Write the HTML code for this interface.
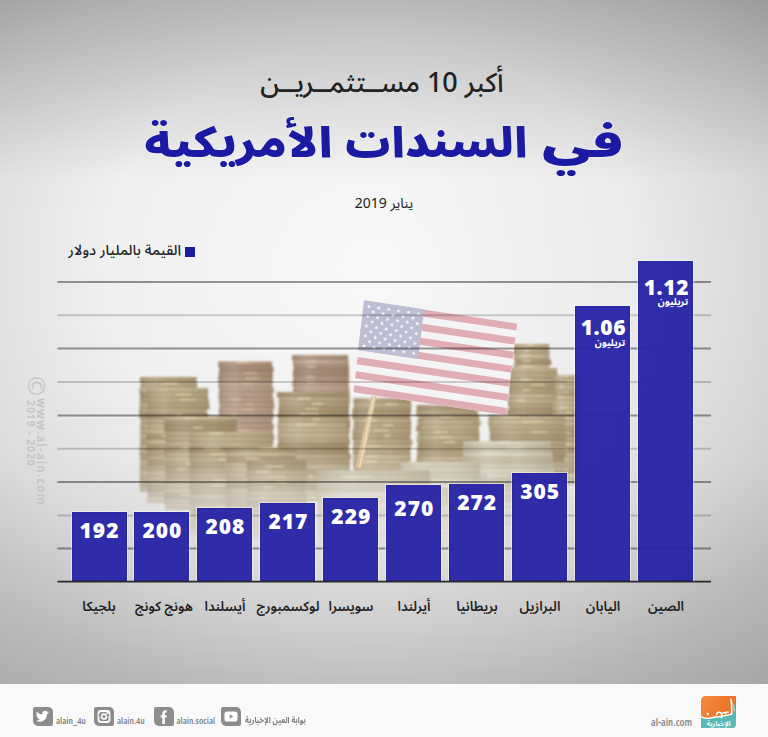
<!DOCTYPE html>
<html lang="ar">
<head>
<meta charset="utf-8">
<title>أكبر 10 مستثمرين في السندات الأمريكية</title>
<style>
*{margin:0;padding:0;box-sizing:border-box}
html,body{width:768px;height:737px;overflow:hidden}
body{position:relative;font-family:"Noto Sans Arabic","Open Sans","Liberation Sans","DejaVu Sans",sans-serif;color:#222;background:#f9f9f9}
.abs{position:absolute}
#wm{left:0;top:0;width:0;height:0;color:#c6c6c6;font-family:"Open Sans","Liberation Sans",sans-serif;font-weight:700}
#wm span{position:absolute;white-space:nowrap;transform-origin:0 0;transform:rotate(90deg)}
#wm-c{left:47px;top:376px;font-size:24px;line-height:20px;font-weight:400}
#wm-1{left:46.5px;top:398px;font-size:11.5px;line-height:12px;letter-spacing:1.1px}
#wm-2{left:36px;top:400px;font-size:10.5px;line-height:11px;letter-spacing:.9px}

#bg{left:0;top:0;width:768px;height:684px;
background:linear-gradient(to bottom,rgba(0,0,0,.214) 0,rgba(0,0,0,0) 180px),linear-gradient(to top,rgba(0,0,0,.087) 0,rgba(0,0,0,0) 223px),linear-gradient(to right,rgba(0,0,0,0) 50%,rgba(0,0,0,.034) 100%),
radial-gradient(ellipse 689px 593px at 373px 267px,#f8f8f8 0%,#f0f0f0 38.5%,#dcdcdc 61.5%,#c8c8c8 76.9%,#b4b4b4 100%);}
#sub{left:-2px;width:768px;top:63.5px;text-align:center;font-size:27px;font-weight:500;line-height:40px;direction:rtl;color:#222}
#title{left:0;top:0;width:768px;height:200px}
.tw{position:absolute;top:107px;font-size:47.6px;font-weight:900;line-height:70px;color:#1b1aa2;text-shadow:0 0 2px rgba(255,255,255,.9);transform-origin:0 48px;white-space:nowrap}
#date{left:0;width:768px;top:192px;text-align:center;font-size:14px;line-height:24px;direction:rtl;color:#222}
#legend{left:40px;top:239.5px;width:141px;text-align:right;font-size:14.5px;font-weight:500;line-height:22px;direction:rtl;color:#222}
#legsq{left:185px;top:247px;width:9.6px;height:10px;background:#1c1c9e}
.bar{position:absolute;width:55px;background:#2a27a8;opacity:.97;box-shadow:0 0 0 1px rgba(255,255,245,.5),inset 0 0 0 1px #2421a0}
.num{position:absolute;width:55px;text-align:center;color:#fff;font-family:"Open Sans","Liberation Sans",sans-serif;font-weight:800;font-size:21px;line-height:24px;letter-spacing:1px;text-indent:1px}
.tn{position:absolute;width:51px;text-align:right;color:#fff;font-family:"Open Sans","Liberation Sans",sans-serif;font-weight:800;font-size:21px;line-height:28px;letter-spacing:.6px}
.tt{position:absolute;width:50px;text-align:right;direction:rtl;color:#fff;font-size:9.6px;font-weight:700;line-height:16px}
.lab{position:absolute;width:90px;text-align:center;direction:rtl;font-size:13.4px;font-weight:600;line-height:24px;top:595px;color:#222}
#footer{left:0;top:684px;width:768px;height:53px;background:#f9f9f9}
.ico{position:absolute;top:706.5px;width:20px;height:19px;background:#8c8c8c;border-radius:2px 5px 2px 5px}
.ico svg{display:block}
.ft{position:absolute;top:714px;font-family:"Open Sans","Liberation Sans",sans-serif;font-weight:600;font-size:9.4px;font-stretch:75%;line-height:13px;color:#7e7e7e;white-space:nowrap;transform-origin:0 0}
.ft.ar{font-family:"Noto Sans Arabic","DejaVu Sans",sans-serif;font-weight:700;font-size:8.5px;font-stretch:75%;top:714px}
.ft.ar{direction:rtl}
#logo{left:700.8px;top:695.5px}
</style>
</head>
<body>
<div id="bg" class="abs"></div>

<div id="sub" class="abs">أكبر 10 مســتثمــريــن</div>
<div id="title" class="abs"><span class="tw" style="left:541.8px;transform:scale(1.24,.87)">في</span><span class="tw" style="left:344.2px;transform:scale(.932,.87)">السندات</span><span class="tw" style="left:144px;transform:scale(.984,.87)">الأمريكية</span></div>
<div id="date" class="abs">يناير 2019</div>
<div id="legend" class="abs">القيمة بالمليار دولار</div>
<div id="legsq" class="abs"></div>

<svg id="photo" class="abs" style="left:0;top:0" width="768" height="600">
<defs>
<pattern id="pg" width="10" height="5.2" patternUnits="userSpaceOnUse"><rect width="10" height="5.2" fill="#bba377"/><rect width="10" height="1.3" fill="#d6c49a"/><rect y="3.6" width="10" height="1.4" fill="#9c835a"/></pattern>
<pattern id="pc" width="10" height="5.2" patternUnits="userSpaceOnUse"><rect width="10" height="5.2" fill="#b8957a"/><rect width="10" height="1.3" fill="#d0ae94"/><rect y="3.6" width="10" height="1.4" fill="#98735a"/></pattern>
<pattern id="ps" width="10" height="5.6" patternUnits="userSpaceOnUse"><rect width="10" height="5.6" fill="#d0c5a8"/><rect width="10" height="1.4" fill="#e4dcc6"/><rect y="3.8" width="10" height="1.5" fill="#b8a882"/></pattern>
<linearGradient id="shade" x1="0" x2="1" y1="0" y2="0"><stop offset="0" stop-color="#6a5430" stop-opacity=".22"/><stop offset=".3" stop-color="#fff" stop-opacity=".1"/><stop offset=".6" stop-color="#6a5430" stop-opacity="0"/><stop offset="1" stop-color="#6a5430" stop-opacity=".25"/></linearGradient>
<linearGradient id="fadeb" x1="0" x2="0" y1="0" y2="1"><stop offset="0" stop-color="#fff" stop-opacity="1"/><stop offset=".55" stop-color="#fff" stop-opacity="1"/><stop offset=".75" stop-color="#fff" stop-opacity=".55"/><stop offset="1" stop-color="#fff" stop-opacity="0"/></linearGradient>
<mask id="pm"><rect x="120" y="330" width="470" height="220" fill="url(#fadeb)"/></mask>
<filter id="soft" x="-5%" y="-5%" width="110%" height="110%"><feGaussianBlur stdDeviation=".8"/></filter>
</defs>
<g mask="url(#pm)" filter="url(#soft)" opacity=".9">
<rect x="513.6" y="344.0" width="35.3" height="5.4" fill="#b4a27c"/><rect x="513.6" y="347.8" width="35.3" height="1.3" fill="#7a684a" opacity=".55"/><rect x="526.7" y="344.5" width="6.2" height="1.4" fill="#e8d8a4" opacity=".85"/><rect x="512.9" y="349.2" width="36.0" height="5.4" fill="#b4a27c"/><rect x="512.9" y="353.0" width="36.0" height="1.3" fill="#7a684a" opacity=".55"/><rect x="524.4" y="349.7" width="5.3" height="1.4" fill="#e8d8a4" opacity=".85"/><rect x="514.1" y="354.4" width="35.1" height="5.4" fill="#c2b18c"/><rect x="514.1" y="358.2" width="35.1" height="1.3" fill="#7a684a" opacity=".55"/><rect x="522.7" y="354.9" width="8.1" height="1.4" fill="#e8d8a4" opacity=".85"/><rect x="515.1" y="359.6" width="36.2" height="5.4" fill="#a08c66"/><rect x="515.1" y="363.4" width="36.2" height="1.3" fill="#7a684a" opacity=".55"/><rect x="523.7" y="360.1" width="7.6" height="1.4" fill="#e8d8a4" opacity=".85"/><rect x="513.1" y="364.8" width="35.8" height="5.4" fill="#c2b18c"/><rect x="513.1" y="368.6" width="35.8" height="1.3" fill="#7a684a" opacity=".55"/><rect x="523.0" y="365.3" width="9.5" height="1.4" fill="#e8d8a4" opacity=".85"/><rect x="513.2" y="370.0" width="36.2" height="5.4" fill="#ab9872"/><rect x="513.2" y="373.8" width="36.2" height="1.3" fill="#7a684a" opacity=".55"/><rect x="526.5" y="370.5" width="4.1" height="1.4" fill="#e8d8a4" opacity=".85"/><rect x="512.9" y="375.2" width="35.4" height="5.4" fill="#c2b18c"/><rect x="512.9" y="379.0" width="35.4" height="1.3" fill="#7a684a" opacity=".55"/><rect x="522.9" y="375.7" width="7.8" height="1.4" fill="#e8d8a4" opacity=".85"/><rect x="513.9" y="380.4" width="35.6" height="5.4" fill="#ab9872"/><rect x="513.9" y="384.2" width="35.6" height="1.3" fill="#7a684a" opacity=".55"/><rect x="513.4" y="385.6" width="36.1" height="5.4" fill="#c2b18c"/><rect x="513.4" y="389.4" width="36.1" height="1.3" fill="#7a684a" opacity=".55"/><rect x="523.7" y="386.1" width="6.8" height="1.4" fill="#e8d8a4" opacity=".85"/><rect x="514.3" y="390.8" width="35.1" height="5.4" fill="#c2b18c"/><rect x="514.3" y="394.6" width="35.1" height="1.3" fill="#7a684a" opacity=".55"/><rect x="530.6" y="391.3" width="4.7" height="1.4" fill="#e8d8a4" opacity=".85"/><rect x="514.0" y="396.0" width="35.1" height="5.4" fill="#b4a27c"/><rect x="514.0" y="399.8" width="35.1" height="1.3" fill="#7a684a" opacity=".55"/><rect x="514.2" y="401.2" width="36.8" height="5.4" fill="#bcab86"/><rect x="514.2" y="405.0" width="36.8" height="1.3" fill="#7a684a" opacity=".55"/><rect x="524.6" y="401.7" width="7.2" height="1.4" fill="#e8d8a4" opacity=".85"/><rect x="514.7" y="406.4" width="35.1" height="5.4" fill="#b4a27c"/><rect x="514.7" y="410.2" width="35.1" height="1.3" fill="#7a684a" opacity=".55"/><rect x="513.9" y="411.6" width="36.3" height="5.4" fill="#b4a27c"/><rect x="513.9" y="415.4" width="36.3" height="1.3" fill="#7a684a" opacity=".55"/><rect x="513.5" y="416.8" width="36.2" height="5.4" fill="#a08c66"/><rect x="513.5" y="420.6" width="36.2" height="1.3" fill="#7a684a" opacity=".55"/><rect x="524.5" y="417.3" width="8.4" height="1.4" fill="#e8d8a4" opacity=".85"/><rect x="514" y="344" width="36" height="76" fill="url(#shade)"/>
<rect x="291.9" y="355.0" width="55.9" height="5.4" fill="#a88a74"/><rect x="291.9" y="358.8" width="55.9" height="1.3" fill="#7e6050" opacity=".55"/><rect x="293.0" y="360.2" width="55.4" height="5.4" fill="#b99c88"/><rect x="293.0" y="364.0" width="55.4" height="1.3" fill="#7e6050" opacity=".55"/><rect x="306.9" y="360.7" width="10.0" height="1.4" fill="#dcc0a0" opacity=".85"/><rect x="293.9" y="365.4" width="55.2" height="5.4" fill="#9c7e68"/><rect x="293.9" y="369.2" width="55.2" height="1.3" fill="#7e6050" opacity=".55"/><rect x="308.5" y="365.9" width="7.1" height="1.4" fill="#dcc0a0" opacity=".85"/><rect x="292.8" y="370.6" width="56.1" height="5.4" fill="#9c7e68"/><rect x="292.8" y="374.4" width="56.1" height="1.3" fill="#7e6050" opacity=".55"/><rect x="293.4" y="375.8" width="55.8" height="5.4" fill="#a88a74"/><rect x="293.4" y="379.6" width="55.8" height="1.3" fill="#7e6050" opacity=".55"/><rect x="305.8" y="376.3" width="8.2" height="1.4" fill="#dcc0a0" opacity=".85"/><rect x="292.4" y="381.0" width="56.0" height="5.4" fill="#b49682"/><rect x="292.4" y="384.8" width="56.0" height="1.3" fill="#7e6050" opacity=".55"/><rect x="307.1" y="381.5" width="7.2" height="1.4" fill="#dcc0a0" opacity=".85"/><rect x="293.1" y="386.2" width="56.2" height="5.4" fill="#b99c88"/><rect x="293.1" y="390.0" width="56.2" height="1.3" fill="#7e6050" opacity=".55"/><rect x="293.5" y="391.4" width="56.0" height="5.4" fill="#b49682"/><rect x="293.5" y="395.2" width="56.0" height="1.3" fill="#7e6050" opacity=".55"/><rect x="293.6" y="396.6" width="55.9" height="5.4" fill="#b49682"/><rect x="293.6" y="400.4" width="55.9" height="1.3" fill="#7e6050" opacity=".55"/><rect x="310.9" y="397.1" width="6.8" height="1.4" fill="#dcc0a0" opacity=".85"/><rect x="293.3" y="401.8" width="55.1" height="5.4" fill="#b09480"/><rect x="293.3" y="405.6" width="55.1" height="1.3" fill="#7e6050" opacity=".55"/><rect x="292.9" y="407.0" width="55.2" height="5.4" fill="#b49682"/><rect x="292.9" y="410.8" width="55.2" height="1.3" fill="#7e6050" opacity=".55"/><rect x="301.3" y="407.5" width="7.3" height="1.4" fill="#dcc0a0" opacity=".85"/><rect x="292.0" y="412.2" width="55.7" height="5.4" fill="#b09480"/><rect x="292.0" y="416.0" width="55.7" height="1.3" fill="#7e6050" opacity=".55"/><rect x="305.1" y="412.7" width="9.8" height="1.4" fill="#dcc0a0" opacity=".85"/><rect x="293.3" y="417.4" width="56.9" height="5.4" fill="#b49682"/><rect x="293.3" y="421.2" width="56.9" height="1.3" fill="#7e6050" opacity=".55"/><rect x="304.5" y="417.9" width="15.1" height="1.4" fill="#dcc0a0" opacity=".85"/><rect x="294.2" y="422.6" width="55.9" height="5.4" fill="#9c7e68"/><rect x="294.2" y="426.4" width="55.9" height="1.3" fill="#7e6050" opacity=".55"/><rect x="305.8" y="423.1" width="14.0" height="1.4" fill="#dcc0a0" opacity=".85"/><rect x="293.6" y="427.8" width="56.0" height="5.4" fill="#a88a74"/><rect x="293.6" y="431.6" width="56.0" height="1.3" fill="#7e6050" opacity=".55"/><rect x="306.6" y="428.3" width="16.3" height="1.4" fill="#dcc0a0" opacity=".85"/><rect x="292.7" y="433.0" width="56.4" height="5.4" fill="#b09480"/><rect x="292.7" y="436.8" width="56.4" height="1.3" fill="#7e6050" opacity=".55"/><rect x="292.5" y="438.2" width="56.3" height="5.4" fill="#b09480"/><rect x="292.5" y="442.0" width="56.3" height="1.3" fill="#7e6050" opacity=".55"/><rect x="292.4" y="443.4" width="55.7" height="5.4" fill="#a88a74"/><rect x="292.4" y="447.2" width="55.7" height="1.3" fill="#7e6050" opacity=".55"/><rect x="305.8" y="443.9" width="11.7" height="1.4" fill="#dcc0a0" opacity=".85"/><rect x="293.0" y="448.6" width="56.3" height="5.4" fill="#b49682"/><rect x="293.0" y="452.4" width="56.3" height="1.3" fill="#7e6050" opacity=".55"/><rect x="294.2" y="453.8" width="56.7" height="5.4" fill="#a88a74"/><rect x="294.2" y="457.6" width="56.7" height="1.3" fill="#7e6050" opacity=".55"/><rect x="293.6" y="459.0" width="55.5" height="5.4" fill="#b49682"/><rect x="293.6" y="462.8" width="55.5" height="1.3" fill="#7e6050" opacity=".55"/><rect x="318.4" y="459.5" width="16.7" height="1.4" fill="#dcc0a0" opacity=".85"/><rect x="293.7" y="464.2" width="55.9" height="5.4" fill="#a88a74"/><rect x="293.7" y="468.0" width="55.9" height="1.3" fill="#7e6050" opacity=".55"/><rect x="294.1" y="469.4" width="55.9" height="5.4" fill="#b99c88"/><rect x="294.1" y="473.2" width="55.9" height="1.3" fill="#7e6050" opacity=".55"/><rect x="292.7" y="474.6" width="55.4" height="5.4" fill="#a88a74"/><rect x="292.7" y="478.4" width="55.4" height="1.3" fill="#7e6050" opacity=".55"/><rect x="308.6" y="475.1" width="11.0" height="1.4" fill="#dcc0a0" opacity=".85"/><rect x="294.2" y="479.8" width="56.2" height="5.4" fill="#b09480"/><rect x="294.2" y="483.6" width="56.2" height="1.3" fill="#7e6050" opacity=".55"/><rect x="317.2" y="480.3" width="14.6" height="1.4" fill="#dcc0a0" opacity=".85"/><rect x="292.0" y="485.0" width="56.3" height="5.4" fill="#9c7e68"/><rect x="292.0" y="488.8" width="56.3" height="1.3" fill="#7e6050" opacity=".55"/><rect x="293.6" y="490.2" width="56.0" height="5.4" fill="#a88a74"/><rect x="293.6" y="494.0" width="56.0" height="1.3" fill="#7e6050" opacity=".55"/><rect x="316.2" y="490.7" width="6.6" height="1.4" fill="#dcc0a0" opacity=".85"/><rect x="294.1" y="495.4" width="56.4" height="5.4" fill="#9c7e68"/><rect x="294.1" y="499.2" width="56.4" height="1.3" fill="#7e6050" opacity=".55"/><rect x="323.7" y="495.9" width="13.7" height="1.4" fill="#dcc0a0" opacity=".85"/><rect x="293" y="355" width="56" height="145" fill="url(#shade)"/>
<rect x="218.2" y="361.5" width="53.3" height="5.4" fill="#a88a74"/><rect x="218.2" y="365.3" width="53.3" height="1.3" fill="#7e6050" opacity=".55"/><rect x="236.4" y="362.0" width="12.5" height="1.4" fill="#dcc0a0" opacity=".85"/><rect x="219.3" y="366.7" width="54.2" height="5.4" fill="#9c7e68"/><rect x="219.3" y="370.5" width="54.2" height="1.3" fill="#7e6050" opacity=".55"/><rect x="218.6" y="371.9" width="54.1" height="5.4" fill="#a88a74"/><rect x="218.6" y="375.7" width="54.1" height="1.3" fill="#7e6050" opacity=".55"/><rect x="244.0" y="372.4" width="13.2" height="1.4" fill="#dcc0a0" opacity=".85"/><rect x="218.0" y="377.1" width="54.5" height="5.4" fill="#a88a74"/><rect x="218.0" y="380.9" width="54.5" height="1.3" fill="#7e6050" opacity=".55"/><rect x="245.0" y="377.6" width="14.3" height="1.4" fill="#dcc0a0" opacity=".85"/><rect x="218.3" y="382.3" width="53.5" height="5.4" fill="#b99c88"/><rect x="218.3" y="386.1" width="53.5" height="1.3" fill="#7e6050" opacity=".55"/><rect x="242.9" y="382.8" width="8.9" height="1.4" fill="#dcc0a0" opacity=".85"/><rect x="219.1" y="387.5" width="54.7" height="5.4" fill="#b09480"/><rect x="219.1" y="391.3" width="54.7" height="1.3" fill="#7e6050" opacity=".55"/><rect x="218.6" y="392.7" width="53.9" height="5.4" fill="#b49682"/><rect x="218.6" y="396.5" width="53.9" height="1.3" fill="#7e6050" opacity=".55"/><rect x="219.0" y="397.9" width="54.7" height="5.4" fill="#b49682"/><rect x="219.0" y="401.7" width="54.7" height="1.3" fill="#7e6050" opacity=".55"/><rect x="230.4" y="398.4" width="10.9" height="1.4" fill="#dcc0a0" opacity=".85"/><rect x="219.9" y="403.1" width="54.6" height="5.4" fill="#b49682"/><rect x="219.9" y="406.9" width="54.6" height="1.3" fill="#7e6050" opacity=".55"/><rect x="245.3" y="403.6" width="7.3" height="1.4" fill="#dcc0a0" opacity=".85"/><rect x="218.9" y="408.3" width="54.5" height="5.4" fill="#b49682"/><rect x="218.9" y="412.1" width="54.5" height="1.3" fill="#7e6050" opacity=".55"/><rect x="241.8" y="408.8" width="11.1" height="1.4" fill="#dcc0a0" opacity=".85"/><rect x="219.0" y="413.5" width="54.6" height="5.4" fill="#b49682"/><rect x="219.0" y="417.3" width="54.6" height="1.3" fill="#7e6050" opacity=".55"/><rect x="231.2" y="414.0" width="5.9" height="1.4" fill="#dcc0a0" opacity=".85"/><rect x="218.0" y="418.7" width="53.9" height="5.4" fill="#b09480"/><rect x="218.0" y="422.5" width="53.9" height="1.3" fill="#7e6050" opacity=".55"/><rect x="220.0" y="423.9" width="53.9" height="5.4" fill="#b49682"/><rect x="220.0" y="427.7" width="53.9" height="1.3" fill="#7e6050" opacity=".55"/><rect x="219.3" y="429.1" width="53.4" height="5.4" fill="#b99c88"/><rect x="219.3" y="432.9" width="53.4" height="1.3" fill="#7e6050" opacity=".55"/><rect x="238.9" y="429.6" width="10.6" height="1.4" fill="#dcc0a0" opacity=".85"/><rect x="220.1" y="434.3" width="54.4" height="5.4" fill="#b99c88"/><rect x="220.1" y="438.1" width="54.4" height="1.3" fill="#7e6050" opacity=".55"/><rect x="219.9" y="439.5" width="53.4" height="5.4" fill="#9c7e68"/><rect x="219.9" y="443.3" width="53.4" height="1.3" fill="#7e6050" opacity=".55"/><rect x="230.7" y="440.0" width="10.2" height="1.4" fill="#dcc0a0" opacity=".85"/><rect x="218.0" y="444.7" width="53.5" height="5.4" fill="#b09480"/><rect x="218.0" y="448.5" width="53.5" height="1.3" fill="#7e6050" opacity=".55"/><rect x="232.6" y="445.2" width="6.7" height="1.4" fill="#dcc0a0" opacity=".85"/><rect x="219.7" y="449.9" width="54.9" height="5.4" fill="#b99c88"/><rect x="219.7" y="453.7" width="54.9" height="1.3" fill="#7e6050" opacity=".55"/><rect x="246.8" y="450.4" width="15.8" height="1.4" fill="#dcc0a0" opacity=".85"/><rect x="218.3" y="455.1" width="54.9" height="5.4" fill="#9c7e68"/><rect x="218.3" y="458.9" width="54.9" height="1.3" fill="#7e6050" opacity=".55"/><rect x="218.2" y="460.3" width="54.3" height="5.4" fill="#a88a74"/><rect x="218.2" y="464.1" width="54.3" height="1.3" fill="#7e6050" opacity=".55"/><rect x="235.6" y="460.8" width="11.0" height="1.4" fill="#dcc0a0" opacity=".85"/><rect x="218.6" y="465.5" width="53.4" height="5.4" fill="#b99c88"/><rect x="218.6" y="469.3" width="53.4" height="1.3" fill="#7e6050" opacity=".55"/><rect x="234.6" y="466.0" width="9.1" height="1.4" fill="#dcc0a0" opacity=".85"/><rect x="218.9" y="470.7" width="54.4" height="5.4" fill="#9c7e68"/><rect x="218.9" y="474.5" width="54.4" height="1.3" fill="#7e6050" opacity=".55"/><rect x="240.5" y="471.2" width="10.9" height="1.4" fill="#dcc0a0" opacity=".85"/><rect x="218.0" y="475.9" width="55.0" height="5.4" fill="#a88a74"/><rect x="218.0" y="479.7" width="55.0" height="1.3" fill="#7e6050" opacity=".55"/><rect x="218.1" y="481.1" width="53.5" height="5.4" fill="#b09480"/><rect x="218.1" y="484.9" width="53.5" height="1.3" fill="#7e6050" opacity=".55"/><rect x="218.2" y="486.3" width="54.5" height="5.4" fill="#9c7e68"/><rect x="218.2" y="490.1" width="54.5" height="1.3" fill="#7e6050" opacity=".55"/><rect x="219.4" y="491.5" width="54.9" height="5.4" fill="#9c7e68"/><rect x="219.4" y="495.3" width="54.9" height="1.3" fill="#7e6050" opacity=".55"/><rect x="247.4" y="492.0" width="11.6" height="1.4" fill="#dcc0a0" opacity=".85"/><rect x="219.5" y="496.7" width="53.2" height="5.4" fill="#b09480"/><rect x="219.5" y="500.5" width="53.2" height="1.3" fill="#7e6050" opacity=".55"/><rect x="219" y="361.5" width="54" height="138.5" fill="url(#shade)"/>
<rect x="507.2" y="368.0" width="49.8" height="5.4" fill="#bcab86"/><rect x="507.2" y="371.8" width="49.8" height="1.3" fill="#7a684a" opacity=".55"/><rect x="508.3" y="373.2" width="49.6" height="5.4" fill="#b4a27c"/><rect x="508.3" y="377.0" width="49.6" height="1.3" fill="#7a684a" opacity=".55"/><rect x="507.3" y="378.4" width="48.5" height="5.4" fill="#b4a27c"/><rect x="507.3" y="382.2" width="48.5" height="1.3" fill="#7a684a" opacity=".55"/><rect x="521.3" y="378.9" width="10.3" height="1.4" fill="#e8d8a4" opacity=".85"/><rect x="509.0" y="383.6" width="48.5" height="5.4" fill="#ab9872"/><rect x="509.0" y="387.4" width="48.5" height="1.3" fill="#7a684a" opacity=".55"/><rect x="530.3" y="384.1" width="14.1" height="1.4" fill="#e8d8a4" opacity=".85"/><rect x="509.1" y="388.8" width="48.5" height="5.4" fill="#ab9872"/><rect x="509.1" y="392.6" width="48.5" height="1.3" fill="#7a684a" opacity=".55"/><rect x="522.6" y="389.3" width="7.9" height="1.4" fill="#e8d8a4" opacity=".85"/><rect x="508.6" y="394.0" width="48.6" height="5.4" fill="#c2b18c"/><rect x="508.6" y="397.8" width="48.6" height="1.3" fill="#7a684a" opacity=".55"/><rect x="507.4" y="399.2" width="49.6" height="5.4" fill="#bcab86"/><rect x="507.4" y="403.0" width="49.6" height="1.3" fill="#7a684a" opacity=".55"/><rect x="515.2" y="399.7" width="9.9" height="1.4" fill="#e8d8a4" opacity=".85"/><rect x="509.1" y="404.4" width="49.0" height="5.4" fill="#ab9872"/><rect x="509.1" y="408.2" width="49.0" height="1.3" fill="#7a684a" opacity=".55"/><rect x="507.1" y="409.6" width="49.6" height="5.4" fill="#a08c66"/><rect x="507.1" y="413.4" width="49.6" height="1.3" fill="#7a684a" opacity=".55"/><rect x="508.1" y="414.8" width="49.8" height="5.4" fill="#c2b18c"/><rect x="508.1" y="418.6" width="49.8" height="1.3" fill="#7a684a" opacity=".55"/><rect x="519.7" y="415.3" width="7.1" height="1.4" fill="#e8d8a4" opacity=".85"/><rect x="507.3" y="420.0" width="49.8" height="5.4" fill="#ab9872"/><rect x="507.3" y="423.8" width="49.8" height="1.3" fill="#7a684a" opacity=".55"/><rect x="521.4" y="420.5" width="5.4" height="1.4" fill="#e8d8a4" opacity=".85"/><rect x="507.1" y="425.2" width="48.1" height="5.4" fill="#bcab86"/><rect x="507.1" y="429.0" width="48.1" height="1.3" fill="#7a684a" opacity=".55"/><rect x="515.5" y="425.7" width="11.4" height="1.4" fill="#e8d8a4" opacity=".85"/><rect x="508" y="368" width="49" height="62" fill="url(#shade)"/>
<rect x="553.7" y="375.0" width="25.0" height="5.4" fill="#bcab86"/><rect x="553.7" y="378.8" width="25.0" height="1.3" fill="#7a684a" opacity=".55"/><rect x="564.4" y="375.5" width="2.7" height="1.4" fill="#e8d8a4" opacity=".85"/><rect x="553.2" y="380.2" width="24.5" height="5.4" fill="#b4a27c"/><rect x="553.2" y="384.0" width="24.5" height="1.3" fill="#7a684a" opacity=".55"/><rect x="566.6" y="380.7" width="7.4" height="1.4" fill="#e8d8a4" opacity=".85"/><rect x="554.1" y="385.4" width="24.5" height="5.4" fill="#bcab86"/><rect x="554.1" y="389.2" width="24.5" height="1.3" fill="#7a684a" opacity=".55"/><rect x="559.7" y="385.9" width="4.2" height="1.4" fill="#e8d8a4" opacity=".85"/><rect x="553.0" y="390.6" width="24.6" height="5.4" fill="#ab9872"/><rect x="553.0" y="394.4" width="24.6" height="1.3" fill="#7a684a" opacity=".55"/><rect x="564.5" y="391.1" width="3.0" height="1.4" fill="#e8d8a4" opacity=".85"/><rect x="554.8" y="395.8" width="24.3" height="5.4" fill="#c2b18c"/><rect x="554.8" y="399.6" width="24.3" height="1.3" fill="#7a684a" opacity=".55"/><rect x="558.7" y="396.3" width="4.0" height="1.4" fill="#e8d8a4" opacity=".85"/><rect x="553.4" y="401.0" width="25.2" height="5.4" fill="#c2b18c"/><rect x="553.4" y="404.8" width="25.2" height="1.3" fill="#7a684a" opacity=".55"/><rect x="553.2" y="406.2" width="25.8" height="5.4" fill="#c2b18c"/><rect x="553.2" y="410.0" width="25.8" height="1.3" fill="#7a684a" opacity=".55"/><rect x="560.2" y="406.7" width="7.4" height="1.4" fill="#e8d8a4" opacity=".85"/><rect x="553.2" y="411.4" width="25.4" height="5.4" fill="#ab9872"/><rect x="553.2" y="415.2" width="25.4" height="1.3" fill="#7a684a" opacity=".55"/><rect x="565.3" y="411.9" width="7.0" height="1.4" fill="#e8d8a4" opacity=".85"/><rect x="554.3" y="416.6" width="25.5" height="5.4" fill="#c2b18c"/><rect x="554.3" y="420.4" width="25.5" height="1.3" fill="#7a684a" opacity=".55"/><rect x="563.3" y="417.1" width="5.0" height="1.4" fill="#e8d8a4" opacity=".85"/><rect x="554.8" y="421.8" width="25.6" height="5.4" fill="#c2b18c"/><rect x="554.8" y="425.6" width="25.6" height="1.3" fill="#7a684a" opacity=".55"/><rect x="554.5" y="427.0" width="25.9" height="5.4" fill="#ab9872"/><rect x="554.5" y="430.8" width="25.9" height="1.3" fill="#7a684a" opacity=".55"/><rect x="558.7" y="427.5" width="5.7" height="1.4" fill="#e8d8a4" opacity=".85"/><rect x="555.1" y="432.2" width="24.8" height="5.4" fill="#a08c66"/><rect x="555.1" y="436.0" width="24.8" height="1.3" fill="#7a684a" opacity=".55"/><rect x="565.1" y="432.7" width="5.6" height="1.4" fill="#e8d8a4" opacity=".85"/><rect x="554.4" y="437.4" width="25.0" height="5.4" fill="#b4a27c"/><rect x="554.4" y="441.2" width="25.0" height="1.3" fill="#7a684a" opacity=".55"/><rect x="558.9" y="437.9" width="7.2" height="1.4" fill="#e8d8a4" opacity=".85"/><rect x="555.0" y="442.6" width="24.2" height="5.4" fill="#c2b18c"/><rect x="555.0" y="446.4" width="24.2" height="1.3" fill="#7a684a" opacity=".55"/><rect x="566.1" y="443.1" width="3.8" height="1.4" fill="#e8d8a4" opacity=".85"/><rect x="553.0" y="447.8" width="24.5" height="5.4" fill="#ab9872"/><rect x="553.0" y="451.6" width="24.5" height="1.3" fill="#7a684a" opacity=".55"/><rect x="563.2" y="448.3" width="4.8" height="1.4" fill="#e8d8a4" opacity=".85"/><rect x="554.8" y="453.0" width="24.2" height="5.4" fill="#bcab86"/><rect x="554.8" y="456.8" width="24.2" height="1.3" fill="#7a684a" opacity=".55"/><rect x="554.3" y="458.2" width="25.3" height="5.4" fill="#b4a27c"/><rect x="554.3" y="462.0" width="25.3" height="1.3" fill="#7a684a" opacity=".55"/><rect x="561.3" y="458.7" width="5.8" height="1.4" fill="#e8d8a4" opacity=".85"/><rect x="554.5" y="463.4" width="25.2" height="5.4" fill="#ab9872"/><rect x="554.5" y="467.2" width="25.2" height="1.3" fill="#7a684a" opacity=".55"/><rect x="558.8" y="463.9" width="3.8" height="1.4" fill="#e8d8a4" opacity=".85"/><rect x="554.4" y="468.6" width="25.4" height="5.4" fill="#a08c66"/><rect x="554.4" y="472.4" width="25.4" height="1.3" fill="#7a684a" opacity=".55"/><rect x="563.3" y="469.1" width="4.8" height="1.4" fill="#e8d8a4" opacity=".85"/><rect x="553.9" y="473.8" width="24.2" height="5.4" fill="#c2b18c"/><rect x="553.9" y="477.6" width="24.2" height="1.3" fill="#7a684a" opacity=".55"/><rect x="567.5" y="474.3" width="7.2" height="1.4" fill="#e8d8a4" opacity=".85"/><rect x="552.8" y="479.0" width="24.9" height="5.4" fill="#c2b18c"/><rect x="552.8" y="482.8" width="24.9" height="1.3" fill="#7a684a" opacity=".55"/><rect x="554" y="375" width="25" height="105" fill="url(#shade)"/>
<rect x="139.9" y="377.0" width="56.5" height="5.4" fill="#ab9872"/><rect x="139.9" y="380.8" width="56.5" height="1.3" fill="#7a684a" opacity=".55"/><rect x="141.0" y="382.2" width="56.1" height="5.4" fill="#b4a27c"/><rect x="141.0" y="386.0" width="56.1" height="1.3" fill="#7a684a" opacity=".55"/><rect x="161.5" y="382.7" width="16.6" height="1.4" fill="#e8d8a4" opacity=".85"/><rect x="139.1" y="387.4" width="57.6" height="5.4" fill="#c2b18c"/><rect x="139.1" y="391.2" width="57.6" height="1.3" fill="#7a684a" opacity=".55"/><rect x="150.2" y="387.9" width="9.9" height="1.4" fill="#e8d8a4" opacity=".85"/><rect x="140.0" y="392.6" width="57.8" height="5.4" fill="#a08c66"/><rect x="140.0" y="396.4" width="57.8" height="1.3" fill="#7a684a" opacity=".55"/><rect x="148.6" y="393.1" width="11.3" height="1.4" fill="#e8d8a4" opacity=".85"/><rect x="139.9" y="397.8" width="56.6" height="5.4" fill="#ab9872"/><rect x="139.9" y="401.6" width="56.6" height="1.3" fill="#7a684a" opacity=".55"/><rect x="157.0" y="398.3" width="7.1" height="1.4" fill="#e8d8a4" opacity=".85"/><rect x="139.6" y="403.0" width="56.6" height="5.4" fill="#bcab86"/><rect x="139.6" y="406.8" width="56.6" height="1.3" fill="#7a684a" opacity=".55"/><rect x="139.1" y="408.2" width="57.9" height="5.4" fill="#b4a27c"/><rect x="139.1" y="412.0" width="57.9" height="1.3" fill="#7a684a" opacity=".55"/><rect x="139.5" y="413.4" width="56.7" height="5.4" fill="#a08c66"/><rect x="139.5" y="417.2" width="56.7" height="1.3" fill="#7a684a" opacity=".55"/><rect x="167.9" y="413.9" width="6.6" height="1.4" fill="#e8d8a4" opacity=".85"/><rect x="141.0" y="418.6" width="57.5" height="5.4" fill="#b4a27c"/><rect x="141.0" y="422.4" width="57.5" height="1.3" fill="#7a684a" opacity=".55"/><rect x="150.7" y="419.1" width="13.2" height="1.4" fill="#e8d8a4" opacity=".85"/><rect x="140.3" y="423.8" width="56.3" height="5.4" fill="#bcab86"/><rect x="140.3" y="427.6" width="56.3" height="1.3" fill="#7a684a" opacity=".55"/><rect x="156.1" y="424.3" width="14.5" height="1.4" fill="#e8d8a4" opacity=".85"/><rect x="140.7" y="429.0" width="56.9" height="5.4" fill="#b4a27c"/><rect x="140.7" y="432.8" width="56.9" height="1.3" fill="#7a684a" opacity=".55"/><rect x="140.3" y="434.2" width="57.8" height="5.4" fill="#c2b18c"/><rect x="140.3" y="438.0" width="57.8" height="1.3" fill="#7a684a" opacity=".55"/><rect x="165.3" y="434.7" width="6.3" height="1.4" fill="#e8d8a4" opacity=".85"/><rect x="140.6" y="439.4" width="56.9" height="5.4" fill="#ab9872"/><rect x="140.6" y="443.2" width="56.9" height="1.3" fill="#7a684a" opacity=".55"/><rect x="139.5" y="444.6" width="56.1" height="5.4" fill="#c2b18c"/><rect x="139.5" y="448.4" width="56.1" height="1.3" fill="#7a684a" opacity=".55"/><rect x="158.8" y="445.1" width="9.6" height="1.4" fill="#e8d8a4" opacity=".85"/><rect x="139.5" y="449.8" width="57.5" height="5.4" fill="#bcab86"/><rect x="139.5" y="453.6" width="57.5" height="1.3" fill="#7a684a" opacity=".55"/><rect x="153.5" y="450.3" width="11.2" height="1.4" fill="#e8d8a4" opacity=".85"/><rect x="140.4" y="455.0" width="56.2" height="5.4" fill="#ab9872"/><rect x="140.4" y="458.8" width="56.2" height="1.3" fill="#7a684a" opacity=".55"/><rect x="160.4" y="455.5" width="15.0" height="1.4" fill="#e8d8a4" opacity=".85"/><rect x="140.1" y="460.2" width="56.9" height="5.4" fill="#bcab86"/><rect x="140.1" y="464.0" width="56.9" height="1.3" fill="#7a684a" opacity=".55"/><rect x="139.9" y="465.4" width="56.3" height="5.4" fill="#ab9872"/><rect x="139.9" y="469.2" width="56.3" height="1.3" fill="#7a684a" opacity=".55"/><rect x="152.4" y="465.9" width="12.0" height="1.4" fill="#e8d8a4" opacity=".85"/><rect x="139.6" y="470.6" width="56.7" height="5.4" fill="#c2b18c"/><rect x="139.6" y="474.4" width="56.7" height="1.3" fill="#7a684a" opacity=".55"/><rect x="148.6" y="471.1" width="15.6" height="1.4" fill="#e8d8a4" opacity=".85"/><rect x="139.7" y="475.8" width="57.5" height="5.4" fill="#ab9872"/><rect x="139.7" y="479.6" width="57.5" height="1.3" fill="#7a684a" opacity=".55"/><rect x="156.0" y="476.3" width="6.4" height="1.4" fill="#e8d8a4" opacity=".85"/><rect x="139.5" y="481.0" width="57.9" height="5.4" fill="#ab9872"/><rect x="139.5" y="484.8" width="57.9" height="1.3" fill="#7a684a" opacity=".55"/><rect x="140.1" y="486.2" width="57.6" height="5.4" fill="#ab9872"/><rect x="140.1" y="490.0" width="57.6" height="1.3" fill="#7a684a" opacity=".55"/><rect x="169.1" y="486.7" width="10.1" height="1.4" fill="#e8d8a4" opacity=".85"/><rect x="140" y="377" width="57" height="113" fill="url(#shade)"/>
<rect x="147.3" y="388.0" width="60.9" height="5.4" fill="#bcab86"/><rect x="147.3" y="391.8" width="60.9" height="1.3" fill="#7a684a" opacity=".55"/><rect x="147.9" y="393.2" width="60.0" height="5.4" fill="#b4a27c"/><rect x="147.9" y="397.0" width="60.0" height="1.3" fill="#7a684a" opacity=".55"/><rect x="175.7" y="393.7" width="15.9" height="1.4" fill="#e8d8a4" opacity=".85"/><rect x="148.1" y="398.4" width="61.0" height="5.4" fill="#b4a27c"/><rect x="148.1" y="402.2" width="61.0" height="1.3" fill="#7a684a" opacity=".55"/><rect x="179.9" y="398.9" width="16.2" height="1.4" fill="#e8d8a4" opacity=".85"/><rect x="147.9" y="403.6" width="61.9" height="5.4" fill="#ab9872"/><rect x="147.9" y="407.4" width="61.9" height="1.3" fill="#7a684a" opacity=".55"/><rect x="146.3" y="408.8" width="60.3" height="5.4" fill="#b4a27c"/><rect x="146.3" y="412.6" width="60.3" height="1.3" fill="#7a684a" opacity=".55"/><rect x="147.5" y="414.0" width="61.3" height="5.4" fill="#a08c66"/><rect x="147.5" y="417.8" width="61.3" height="1.3" fill="#7a684a" opacity=".55"/><rect x="175.6" y="414.5" width="6.1" height="1.4" fill="#e8d8a4" opacity=".85"/><rect x="146.1" y="419.2" width="61.1" height="5.4" fill="#b4a27c"/><rect x="146.1" y="423.0" width="61.1" height="1.3" fill="#7a684a" opacity=".55"/><rect x="146.5" y="424.4" width="60.3" height="5.4" fill="#bcab86"/><rect x="146.5" y="428.2" width="60.3" height="1.3" fill="#7a684a" opacity=".55"/><rect x="166.4" y="424.9" width="15.4" height="1.4" fill="#e8d8a4" opacity=".85"/><rect x="146.0" y="429.6" width="60.6" height="5.4" fill="#c2b18c"/><rect x="146.0" y="433.4" width="60.6" height="1.3" fill="#7a684a" opacity=".55"/><rect x="161.6" y="430.1" width="15.7" height="1.4" fill="#e8d8a4" opacity=".85"/><rect x="145.8" y="434.8" width="61.1" height="5.4" fill="#a08c66"/><rect x="145.8" y="438.6" width="61.1" height="1.3" fill="#7a684a" opacity=".55"/><rect x="162.7" y="435.3" width="16.3" height="1.4" fill="#e8d8a4" opacity=".85"/><rect x="146.4" y="440.0" width="61.1" height="5.4" fill="#c2b18c"/><rect x="146.4" y="443.8" width="61.1" height="1.3" fill="#7a684a" opacity=".55"/><rect x="179.0" y="440.5" width="14.7" height="1.4" fill="#e8d8a4" opacity=".85"/><rect x="146.5" y="445.2" width="60.0" height="5.4" fill="#a08c66"/><rect x="146.5" y="449.0" width="60.0" height="1.3" fill="#7a684a" opacity=".55"/><rect x="147.4" y="450.4" width="60.2" height="5.4" fill="#ab9872"/><rect x="147.4" y="454.2" width="60.2" height="1.3" fill="#7a684a" opacity=".55"/><rect x="148.0" y="455.6" width="60.5" height="5.4" fill="#b4a27c"/><rect x="148.0" y="459.4" width="60.5" height="1.3" fill="#7a684a" opacity=".55"/><rect x="147.5" y="460.8" width="60.7" height="5.4" fill="#a08c66"/><rect x="147.5" y="464.6" width="60.7" height="1.3" fill="#7a684a" opacity=".55"/><rect x="176.1" y="461.3" width="15.1" height="1.4" fill="#e8d8a4" opacity=".85"/><rect x="147.0" y="466.0" width="60.4" height="5.4" fill="#ab9872"/><rect x="147.0" y="469.8" width="60.4" height="1.3" fill="#7a684a" opacity=".55"/><rect x="176.2" y="466.5" width="8.9" height="1.4" fill="#e8d8a4" opacity=".85"/><rect x="146.3" y="471.2" width="61.5" height="5.4" fill="#bcab86"/><rect x="146.3" y="475.0" width="61.5" height="1.3" fill="#7a684a" opacity=".55"/><rect x="170.7" y="471.7" width="13.5" height="1.4" fill="#e8d8a4" opacity=".85"/><rect x="148.0" y="476.4" width="61.0" height="5.4" fill="#b4a27c"/><rect x="148.0" y="480.2" width="61.0" height="1.3" fill="#7a684a" opacity=".55"/><rect x="146.2" y="481.6" width="60.8" height="5.4" fill="#ab9872"/><rect x="146.2" y="485.4" width="60.8" height="1.3" fill="#7a684a" opacity=".55"/><rect x="169.8" y="482.1" width="11.2" height="1.4" fill="#e8d8a4" opacity=".85"/><rect x="147.5" y="486.8" width="60.4" height="5.4" fill="#a08c66"/><rect x="147.5" y="490.6" width="60.4" height="1.3" fill="#7a684a" opacity=".55"/><rect x="147.9" y="492.0" width="61.5" height="5.4" fill="#b4a27c"/><rect x="147.9" y="495.8" width="61.5" height="1.3" fill="#7a684a" opacity=".55"/><rect x="146.6" y="497.2" width="60.4" height="5.4" fill="#c2b18c"/><rect x="146.6" y="501.0" width="60.4" height="1.3" fill="#7a684a" opacity=".55"/><rect x="147" y="388" width="61" height="110" fill="url(#shade)"/>
<rect x="276.9" y="392.0" width="71.3" height="5.4" fill="#a08c66"/><rect x="276.9" y="395.8" width="71.3" height="1.3" fill="#7a684a" opacity=".55"/><rect x="279.2" y="397.2" width="70.9" height="5.4" fill="#b4a27c"/><rect x="279.2" y="401.0" width="70.9" height="1.3" fill="#7a684a" opacity=".55"/><rect x="297.8" y="397.7" width="12.1" height="1.4" fill="#e8d8a4" opacity=".85"/><rect x="279.1" y="402.4" width="70.2" height="5.4" fill="#ab9872"/><rect x="279.1" y="406.2" width="70.2" height="1.3" fill="#7a684a" opacity=".55"/><rect x="311.6" y="402.9" width="11.5" height="1.4" fill="#e8d8a4" opacity=".85"/><rect x="278.7" y="407.6" width="70.2" height="5.4" fill="#a08c66"/><rect x="278.7" y="411.4" width="70.2" height="1.3" fill="#7a684a" opacity=".55"/><rect x="304.8" y="408.1" width="13.4" height="1.4" fill="#e8d8a4" opacity=".85"/><rect x="277.6" y="412.8" width="71.5" height="5.4" fill="#a08c66"/><rect x="277.6" y="416.6" width="71.5" height="1.3" fill="#7a684a" opacity=".55"/><rect x="299.9" y="413.3" width="18.6" height="1.4" fill="#e8d8a4" opacity=".85"/><rect x="278.6" y="418.0" width="70.1" height="5.4" fill="#b4a27c"/><rect x="278.6" y="421.8" width="70.1" height="1.3" fill="#7a684a" opacity=".55"/><rect x="312.1" y="418.5" width="8.0" height="1.4" fill="#e8d8a4" opacity=".85"/><rect x="277.3" y="423.2" width="70.1" height="5.4" fill="#c2b18c"/><rect x="277.3" y="427.0" width="70.1" height="1.3" fill="#7a684a" opacity=".55"/><rect x="295.7" y="423.7" width="20.7" height="1.4" fill="#e8d8a4" opacity=".85"/><rect x="278.3" y="428.4" width="70.5" height="5.4" fill="#bcab86"/><rect x="278.3" y="432.2" width="70.5" height="1.3" fill="#7a684a" opacity=".55"/><rect x="277.5" y="433.6" width="71.4" height="5.4" fill="#c2b18c"/><rect x="277.5" y="437.4" width="71.4" height="1.3" fill="#7a684a" opacity=".55"/><rect x="278.3" y="438.8" width="71.9" height="5.4" fill="#b4a27c"/><rect x="278.3" y="442.6" width="71.9" height="1.3" fill="#7a684a" opacity=".55"/><rect x="277.1" y="444.0" width="71.4" height="5.4" fill="#a08c66"/><rect x="277.1" y="447.8" width="71.4" height="1.3" fill="#7a684a" opacity=".55"/><rect x="277.7" y="449.2" width="70.5" height="5.4" fill="#a08c66"/><rect x="277.7" y="453.0" width="70.5" height="1.3" fill="#7a684a" opacity=".55"/><rect x="277.1" y="454.4" width="71.0" height="5.4" fill="#b4a27c"/><rect x="277.1" y="458.2" width="71.0" height="1.3" fill="#7a684a" opacity=".55"/><rect x="278.6" y="459.6" width="71.6" height="5.4" fill="#ab9872"/><rect x="278.6" y="463.4" width="71.6" height="1.3" fill="#7a684a" opacity=".55"/><rect x="277.6" y="464.8" width="70.6" height="5.4" fill="#bcab86"/><rect x="277.6" y="468.6" width="70.6" height="1.3" fill="#7a684a" opacity=".55"/><rect x="278.2" y="470.0" width="71.0" height="5.4" fill="#a08c66"/><rect x="278.2" y="473.8" width="71.0" height="1.3" fill="#7a684a" opacity=".55"/><rect x="277.4" y="475.2" width="70.1" height="5.4" fill="#b4a27c"/><rect x="277.4" y="479.0" width="70.1" height="1.3" fill="#7a684a" opacity=".55"/><rect x="303.5" y="475.7" width="9.4" height="1.4" fill="#e8d8a4" opacity=".85"/><rect x="277.8" y="480.4" width="70.2" height="5.4" fill="#b4a27c"/><rect x="277.8" y="484.2" width="70.2" height="1.3" fill="#7a684a" opacity=".55"/><rect x="290.9" y="480.9" width="8.5" height="1.4" fill="#e8d8a4" opacity=".85"/><rect x="278.0" y="485.6" width="71.4" height="5.4" fill="#a08c66"/><rect x="278.0" y="489.4" width="71.4" height="1.3" fill="#7a684a" opacity=".55"/><rect x="292.4" y="486.1" width="13.6" height="1.4" fill="#e8d8a4" opacity=".85"/><rect x="278.9" y="490.8" width="70.5" height="5.4" fill="#c2b18c"/><rect x="278.9" y="494.6" width="70.5" height="1.3" fill="#7a684a" opacity=".55"/><rect x="278.4" y="496.0" width="70.2" height="5.4" fill="#bcab86"/><rect x="278.4" y="499.8" width="70.2" height="1.3" fill="#7a684a" opacity=".55"/><rect x="305.1" y="496.5" width="12.4" height="1.4" fill="#e8d8a4" opacity=".85"/><rect x="278" y="392" width="71" height="108" fill="url(#shade)"/>
<rect x="353.6" y="398.0" width="57.4" height="5.4" fill="#ab9872"/><rect x="353.6" y="401.8" width="57.4" height="1.3" fill="#7a684a" opacity=".55"/><rect x="367.7" y="398.5" width="9.1" height="1.4" fill="#e8d8a4" opacity=".85"/><rect x="354.0" y="403.2" width="57.4" height="5.4" fill="#b4a27c"/><rect x="354.0" y="407.0" width="57.4" height="1.3" fill="#7a684a" opacity=".55"/><rect x="385.7" y="403.7" width="11.7" height="1.4" fill="#e8d8a4" opacity=".85"/><rect x="352.4" y="408.4" width="58.6" height="5.4" fill="#a08c66"/><rect x="352.4" y="412.2" width="58.6" height="1.3" fill="#7a684a" opacity=".55"/><rect x="352.0" y="413.6" width="57.9" height="5.4" fill="#ab9872"/><rect x="352.0" y="417.4" width="57.9" height="1.3" fill="#7a684a" opacity=".55"/><rect x="354.0" y="418.8" width="57.1" height="5.4" fill="#bcab86"/><rect x="354.0" y="422.6" width="57.1" height="1.3" fill="#7a684a" opacity=".55"/><rect x="363.9" y="419.3" width="12.8" height="1.4" fill="#e8d8a4" opacity=".85"/><rect x="353.8" y="424.0" width="57.4" height="5.4" fill="#b4a27c"/><rect x="353.8" y="427.8" width="57.4" height="1.3" fill="#7a684a" opacity=".55"/><rect x="382.6" y="424.5" width="11.0" height="1.4" fill="#e8d8a4" opacity=".85"/><rect x="352.4" y="429.2" width="58.6" height="5.4" fill="#b4a27c"/><rect x="352.4" y="433.0" width="58.6" height="1.3" fill="#7a684a" opacity=".55"/><rect x="375.0" y="429.7" width="13.0" height="1.4" fill="#e8d8a4" opacity=".85"/><rect x="352.3" y="434.4" width="57.7" height="5.4" fill="#ab9872"/><rect x="352.3" y="438.2" width="57.7" height="1.3" fill="#7a684a" opacity=".55"/><rect x="384.2" y="434.9" width="6.2" height="1.4" fill="#e8d8a4" opacity=".85"/><rect x="353.6" y="439.6" width="58.8" height="5.4" fill="#b4a27c"/><rect x="353.6" y="443.4" width="58.8" height="1.3" fill="#7a684a" opacity=".55"/><rect x="352.8" y="444.8" width="57.7" height="5.4" fill="#c2b18c"/><rect x="352.8" y="448.6" width="57.7" height="1.3" fill="#7a684a" opacity=".55"/><rect x="366.2" y="445.3" width="15.0" height="1.4" fill="#e8d8a4" opacity=".85"/><rect x="353.1" y="450.0" width="57.1" height="5.4" fill="#b4a27c"/><rect x="353.1" y="453.8" width="57.1" height="1.3" fill="#7a684a" opacity=".55"/><rect x="353.4" y="455.2" width="57.3" height="5.4" fill="#c2b18c"/><rect x="353.4" y="459.0" width="57.3" height="1.3" fill="#7a684a" opacity=".55"/><rect x="365.9" y="455.7" width="13.9" height="1.4" fill="#e8d8a4" opacity=".85"/><rect x="352.8" y="460.4" width="57.6" height="5.4" fill="#bcab86"/><rect x="352.8" y="464.2" width="57.6" height="1.3" fill="#7a684a" opacity=".55"/><rect x="362.7" y="460.9" width="14.4" height="1.4" fill="#e8d8a4" opacity=".85"/><rect x="353.9" y="465.6" width="57.8" height="5.4" fill="#b4a27c"/><rect x="353.9" y="469.4" width="57.8" height="1.3" fill="#7a684a" opacity=".55"/><rect x="354.2" y="470.8" width="57.7" height="5.4" fill="#ab9872"/><rect x="354.2" y="474.6" width="57.7" height="1.3" fill="#7a684a" opacity=".55"/><rect x="372.3" y="471.3" width="16.7" height="1.4" fill="#e8d8a4" opacity=".85"/><rect x="352.8" y="476.0" width="57.3" height="5.4" fill="#b4a27c"/><rect x="352.8" y="479.8" width="57.3" height="1.3" fill="#7a684a" opacity=".55"/><rect x="353" y="398" width="58" height="82" fill="url(#shade)"/>
<rect x="416.8" y="405.0" width="62.8" height="5.4" fill="#a08c66"/><rect x="416.8" y="408.8" width="62.8" height="1.3" fill="#7a684a" opacity=".55"/><rect x="416.1" y="410.2" width="61.1" height="5.4" fill="#ab9872"/><rect x="416.1" y="414.0" width="61.1" height="1.3" fill="#7a684a" opacity=".55"/><rect x="418.0" y="415.4" width="61.2" height="5.4" fill="#c2b18c"/><rect x="418.0" y="419.2" width="61.2" height="1.3" fill="#7a684a" opacity=".55"/><rect x="417.6" y="420.6" width="61.3" height="5.4" fill="#bcab86"/><rect x="417.6" y="424.4" width="61.3" height="1.3" fill="#7a684a" opacity=".55"/><rect x="439.8" y="421.1" width="17.7" height="1.4" fill="#e8d8a4" opacity=".85"/><rect x="416.1" y="425.8" width="62.0" height="5.4" fill="#ab9872"/><rect x="416.1" y="429.6" width="62.0" height="1.3" fill="#7a684a" opacity=".55"/><rect x="446.1" y="426.3" width="6.7" height="1.4" fill="#e8d8a4" opacity=".85"/><rect x="418.0" y="431.0" width="61.6" height="5.4" fill="#c2b18c"/><rect x="418.0" y="434.8" width="61.6" height="1.3" fill="#7a684a" opacity=".55"/><rect x="416.7" y="436.2" width="62.8" height="5.4" fill="#c2b18c"/><rect x="416.7" y="440.0" width="62.8" height="1.3" fill="#7a684a" opacity=".55"/><rect x="417.9" y="441.4" width="62.3" height="5.4" fill="#ab9872"/><rect x="417.9" y="445.2" width="62.3" height="1.3" fill="#7a684a" opacity=".55"/><rect x="417.3" y="446.6" width="61.4" height="5.4" fill="#a08c66"/><rect x="417.3" y="450.4" width="61.4" height="1.3" fill="#7a684a" opacity=".55"/><rect x="432.0" y="447.1" width="11.2" height="1.4" fill="#e8d8a4" opacity=".85"/><rect x="417.0" y="451.8" width="61.8" height="5.4" fill="#b4a27c"/><rect x="417.0" y="455.6" width="61.8" height="1.3" fill="#7a684a" opacity=".55"/><rect x="450.4" y="452.3" width="16.3" height="1.4" fill="#e8d8a4" opacity=".85"/><rect x="416.3" y="457.0" width="62.8" height="5.4" fill="#b4a27c"/><rect x="416.3" y="460.8" width="62.8" height="1.3" fill="#7a684a" opacity=".55"/><rect x="416.6" y="462.2" width="61.8" height="5.4" fill="#a08c66"/><rect x="416.6" y="466.0" width="61.8" height="1.3" fill="#7a684a" opacity=".55"/><rect x="441.4" y="462.7" width="10.0" height="1.4" fill="#e8d8a4" opacity=".85"/><rect x="416.8" y="467.4" width="62.2" height="5.4" fill="#a08c66"/><rect x="416.8" y="471.2" width="62.2" height="1.3" fill="#7a684a" opacity=".55"/><rect x="435.2" y="467.9" width="12.4" height="1.4" fill="#e8d8a4" opacity=".85"/><rect x="416.2" y="472.6" width="61.0" height="5.4" fill="#a08c66"/><rect x="416.2" y="476.4" width="61.0" height="1.3" fill="#7a684a" opacity=".55"/><rect x="436.6" y="473.1" width="13.9" height="1.4" fill="#e8d8a4" opacity=".85"/><rect x="417.8" y="477.8" width="62.7" height="5.4" fill="#a08c66"/><rect x="417.8" y="481.6" width="62.7" height="1.3" fill="#7a684a" opacity=".55"/><rect x="428.7" y="478.3" width="10.6" height="1.4" fill="#e8d8a4" opacity=".85"/><rect x="417" y="405" width="62" height="75" fill="url(#shade)"/>
<rect x="488.7" y="415.0" width="76.6" height="5.4" fill="#c2b18c"/><rect x="488.7" y="418.8" width="76.6" height="1.3" fill="#7a684a" opacity=".55"/><rect x="501.3" y="415.5" width="17.3" height="1.4" fill="#e8d8a4" opacity=".85"/><rect x="488.0" y="420.2" width="76.5" height="5.4" fill="#c2b18c"/><rect x="488.0" y="424.0" width="76.5" height="1.3" fill="#7a684a" opacity=".55"/><rect x="522.3" y="420.7" width="21.2" height="1.4" fill="#e8d8a4" opacity=".85"/><rect x="489.4" y="425.4" width="76.6" height="5.4" fill="#b4a27c"/><rect x="489.4" y="429.2" width="76.6" height="1.3" fill="#7a684a" opacity=".55"/><rect x="490.2" y="430.6" width="76.5" height="5.4" fill="#b4a27c"/><rect x="490.2" y="434.4" width="76.5" height="1.3" fill="#7a684a" opacity=".55"/><rect x="531.4" y="431.1" width="15.1" height="1.4" fill="#e8d8a4" opacity=".85"/><rect x="490.1" y="435.8" width="76.8" height="5.4" fill="#ab9872"/><rect x="490.1" y="439.6" width="76.8" height="1.3" fill="#7a684a" opacity=".55"/><rect x="489.5" y="441.0" width="75.4" height="5.4" fill="#bcab86"/><rect x="489.5" y="444.8" width="75.4" height="1.3" fill="#7a684a" opacity=".55"/><rect x="488.4" y="446.2" width="75.6" height="5.4" fill="#c2b18c"/><rect x="488.4" y="450.0" width="75.6" height="1.3" fill="#7a684a" opacity=".55"/><rect x="524.6" y="446.7" width="9.8" height="1.4" fill="#e8d8a4" opacity=".85"/><rect x="489.0" y="451.4" width="76.8" height="5.4" fill="#ab9872"/><rect x="489.0" y="455.2" width="76.8" height="1.3" fill="#7a684a" opacity=".55"/><rect x="519.1" y="451.9" width="11.2" height="1.4" fill="#e8d8a4" opacity=".85"/><rect x="488.7" y="456.6" width="75.4" height="5.4" fill="#a08c66"/><rect x="488.7" y="460.4" width="75.4" height="1.3" fill="#7a684a" opacity=".55"/><rect x="528.6" y="457.1" width="17.9" height="1.4" fill="#e8d8a4" opacity=".85"/><rect x="489.9" y="461.8" width="75.3" height="5.4" fill="#bcab86"/><rect x="489.9" y="465.6" width="75.3" height="1.3" fill="#7a684a" opacity=".55"/><rect x="517.5" y="462.3" width="17.3" height="1.4" fill="#e8d8a4" opacity=".85"/><rect x="488.7" y="467.0" width="76.7" height="5.4" fill="#c2b18c"/><rect x="488.7" y="470.8" width="76.7" height="1.3" fill="#7a684a" opacity=".55"/><rect x="521.0" y="467.5" width="21.2" height="1.4" fill="#e8d8a4" opacity=".85"/><rect x="488.4" y="472.2" width="76.1" height="5.4" fill="#a08c66"/><rect x="488.4" y="476.0" width="76.1" height="1.3" fill="#7a684a" opacity=".55"/><rect x="488.7" y="477.4" width="75.8" height="5.4" fill="#bcab86"/><rect x="488.7" y="481.2" width="75.8" height="1.3" fill="#7a684a" opacity=".55"/><rect x="511.0" y="477.9" width="19.2" height="1.4" fill="#e8d8a4" opacity=".85"/><rect x="489" y="415" width="76" height="65" fill="url(#shade)"/>
<rect x="419.9" y="415.0" width="58.4" height="5.4" fill="#b4a27c"/><rect x="419.9" y="418.8" width="58.4" height="1.3" fill="#7a684a" opacity=".55"/><rect x="440.9" y="415.5" width="9.6" height="1.4" fill="#e8d8a4" opacity=".85"/><rect x="421.1" y="420.2" width="59.7" height="5.4" fill="#bcab86"/><rect x="421.1" y="424.0" width="59.7" height="1.3" fill="#7a684a" opacity=".55"/><rect x="420.6" y="425.4" width="58.4" height="5.4" fill="#bcab86"/><rect x="420.6" y="429.2" width="58.4" height="1.3" fill="#7a684a" opacity=".55"/><rect x="419.8" y="430.6" width="59.0" height="5.4" fill="#b4a27c"/><rect x="419.8" y="434.4" width="59.0" height="1.3" fill="#7a684a" opacity=".55"/><rect x="434.1" y="431.1" width="13.6" height="1.4" fill="#e8d8a4" opacity=".85"/><rect x="418.9" y="435.8" width="58.0" height="5.4" fill="#bcab86"/><rect x="418.9" y="439.6" width="58.0" height="1.3" fill="#7a684a" opacity=".55"/><rect x="440.0" y="436.3" width="12.2" height="1.4" fill="#e8d8a4" opacity=".85"/><rect x="419.8" y="441.0" width="58.6" height="5.4" fill="#ab9872"/><rect x="419.8" y="444.8" width="58.6" height="1.3" fill="#7a684a" opacity=".55"/><rect x="443.4" y="441.5" width="11.5" height="1.4" fill="#e8d8a4" opacity=".85"/><rect x="419.1" y="446.2" width="59.9" height="5.4" fill="#ab9872"/><rect x="419.1" y="450.0" width="59.9" height="1.3" fill="#7a684a" opacity=".55"/><rect x="419.9" y="451.4" width="58.1" height="5.4" fill="#ab9872"/><rect x="419.9" y="455.2" width="58.1" height="1.3" fill="#7a684a" opacity=".55"/><rect x="420.7" y="456.6" width="58.8" height="5.4" fill="#bcab86"/><rect x="420.7" y="460.4" width="58.8" height="1.3" fill="#7a684a" opacity=".55"/><rect x="418.9" y="461.8" width="59.6" height="5.4" fill="#bcab86"/><rect x="418.9" y="465.6" width="59.6" height="1.3" fill="#7a684a" opacity=".55"/><rect x="441.4" y="462.3" width="13.0" height="1.4" fill="#e8d8a4" opacity=".85"/><rect x="420.0" y="467.0" width="59.0" height="5.4" fill="#ab9872"/><rect x="420.0" y="470.8" width="59.0" height="1.3" fill="#7a684a" opacity=".55"/><rect x="418.9" y="472.2" width="59.1" height="5.4" fill="#a08c66"/><rect x="418.9" y="476.0" width="59.1" height="1.3" fill="#7a684a" opacity=".55"/><rect x="431.5" y="472.7" width="16.7" height="1.4" fill="#e8d8a4" opacity=".85"/><rect x="419.1" y="477.4" width="59.2" height="5.4" fill="#ab9872"/><rect x="419.1" y="481.2" width="59.2" height="1.3" fill="#7a684a" opacity=".55"/><rect x="432.6" y="477.9" width="13.1" height="1.4" fill="#e8d8a4" opacity=".85"/><rect x="420" y="415" width="59" height="65" fill="url(#shade)"/>
<rect x="165.0" y="416.0" width="72.3" height="5.4" fill="#c2b18c"/><rect x="165.0" y="419.8" width="72.3" height="1.3" fill="#7a684a" opacity=".55"/><rect x="184.7" y="416.5" width="11.5" height="1.4" fill="#e8d8a4" opacity=".85"/><rect x="163.9" y="421.2" width="72.8" height="5.4" fill="#a08c66"/><rect x="163.9" y="425.0" width="72.8" height="1.3" fill="#7a684a" opacity=".55"/><rect x="163.8" y="426.4" width="72.7" height="5.4" fill="#a08c66"/><rect x="163.8" y="430.2" width="72.7" height="1.3" fill="#7a684a" opacity=".55"/><rect x="193.5" y="426.9" width="9.7" height="1.4" fill="#e8d8a4" opacity=".85"/><rect x="166.2" y="431.6" width="71.5" height="5.4" fill="#b4a27c"/><rect x="166.2" y="435.4" width="71.5" height="1.3" fill="#7a684a" opacity=".55"/><rect x="202.7" y="432.1" width="20.5" height="1.4" fill="#e8d8a4" opacity=".85"/><rect x="166.1" y="436.8" width="71.5" height="5.4" fill="#b4a27c"/><rect x="166.1" y="440.6" width="71.5" height="1.3" fill="#7a684a" opacity=".55"/><rect x="192.8" y="437.3" width="13.5" height="1.4" fill="#e8d8a4" opacity=".85"/><rect x="165.7" y="442.0" width="72.0" height="5.4" fill="#bcab86"/><rect x="165.7" y="445.8" width="72.0" height="1.3" fill="#7a684a" opacity=".55"/><rect x="203.2" y="442.5" width="20.1" height="1.4" fill="#e8d8a4" opacity=".85"/><rect x="164.0" y="447.2" width="72.0" height="5.4" fill="#ab9872"/><rect x="164.0" y="451.0" width="72.0" height="1.3" fill="#7a684a" opacity=".55"/><rect x="181.6" y="447.7" width="17.9" height="1.4" fill="#e8d8a4" opacity=".85"/><rect x="166.1" y="452.4" width="72.5" height="5.4" fill="#bcab86"/><rect x="166.1" y="456.2" width="72.5" height="1.3" fill="#7a684a" opacity=".55"/><rect x="188.1" y="452.9" width="15.9" height="1.4" fill="#e8d8a4" opacity=".85"/><rect x="164.7" y="457.6" width="72.7" height="5.4" fill="#c2b18c"/><rect x="164.7" y="461.4" width="72.7" height="1.3" fill="#7a684a" opacity=".55"/><rect x="199.7" y="458.1" width="17.2" height="1.4" fill="#e8d8a4" opacity=".85"/><rect x="165.9" y="462.8" width="71.9" height="5.4" fill="#ab9872"/><rect x="165.9" y="466.6" width="71.9" height="1.3" fill="#7a684a" opacity=".55"/><rect x="185.5" y="463.3" width="10.3" height="1.4" fill="#e8d8a4" opacity=".85"/><rect x="165.3" y="468.0" width="71.2" height="5.4" fill="#ab9872"/><rect x="165.3" y="471.8" width="71.2" height="1.3" fill="#7a684a" opacity=".55"/><rect x="176.9" y="468.5" width="8.7" height="1.4" fill="#e8d8a4" opacity=".85"/><rect x="166.0" y="473.2" width="71.7" height="5.4" fill="#ab9872"/><rect x="166.0" y="477.0" width="71.7" height="1.3" fill="#7a684a" opacity=".55"/><rect x="163.9" y="478.4" width="71.3" height="5.4" fill="#b4a27c"/><rect x="163.9" y="482.2" width="71.3" height="1.3" fill="#7a684a" opacity=".55"/><rect x="165.6" y="483.6" width="71.1" height="5.4" fill="#c2b18c"/><rect x="165.6" y="487.4" width="71.1" height="1.3" fill="#7a684a" opacity=".55"/><rect x="164.3" y="488.8" width="72.9" height="5.4" fill="#c2b18c"/><rect x="164.3" y="492.6" width="72.9" height="1.3" fill="#7a684a" opacity=".55"/><rect x="164.0" y="494.0" width="72.7" height="5.4" fill="#a08c66"/><rect x="164.0" y="497.8" width="72.7" height="1.3" fill="#7a684a" opacity=".55"/><rect x="180.7" y="494.5" width="8.8" height="1.4" fill="#e8d8a4" opacity=".85"/><rect x="163.9" y="499.2" width="72.7" height="5.4" fill="#b4a27c"/><rect x="163.9" y="503.0" width="72.7" height="1.3" fill="#7a684a" opacity=".55"/><rect x="165.3" y="504.4" width="71.6" height="5.4" fill="#b4a27c"/><rect x="165.3" y="508.2" width="71.6" height="1.3" fill="#7a684a" opacity=".55"/><rect x="198.9" y="504.9" width="16.5" height="1.4" fill="#e8d8a4" opacity=".85"/><rect x="165" y="416" width="72" height="90" fill="url(#shade)"/>
<rect x="189.5" y="432.0" width="81.7" height="5.4" fill="#bcab86"/><rect x="189.5" y="435.8" width="81.7" height="1.3" fill="#7a684a" opacity=".55"/><rect x="210.2" y="432.5" width="12.8" height="1.4" fill="#e8d8a4" opacity=".85"/><rect x="190.5" y="437.2" width="81.7" height="5.4" fill="#bcab86"/><rect x="190.5" y="441.0" width="81.7" height="1.3" fill="#7a684a" opacity=".55"/><rect x="190.2" y="442.4" width="82.0" height="5.4" fill="#bcab86"/><rect x="190.2" y="446.2" width="82.0" height="1.3" fill="#7a684a" opacity=".55"/><rect x="188.9" y="447.6" width="81.8" height="5.4" fill="#a08c66"/><rect x="188.9" y="451.4" width="81.8" height="1.3" fill="#7a684a" opacity=".55"/><rect x="204.4" y="448.1" width="15.9" height="1.4" fill="#e8d8a4" opacity=".85"/><rect x="188.9" y="452.8" width="82.1" height="5.4" fill="#b4a27c"/><rect x="188.9" y="456.6" width="82.1" height="1.3" fill="#7a684a" opacity=".55"/><rect x="210.6" y="453.3" width="15.4" height="1.4" fill="#e8d8a4" opacity=".85"/><rect x="190.1" y="458.0" width="81.6" height="5.4" fill="#b4a27c"/><rect x="190.1" y="461.8" width="81.6" height="1.3" fill="#7a684a" opacity=".55"/><rect x="218.5" y="458.5" width="16.3" height="1.4" fill="#e8d8a4" opacity=".85"/><rect x="190.7" y="463.2" width="81.4" height="5.4" fill="#a08c66"/><rect x="190.7" y="467.0" width="81.4" height="1.3" fill="#7a684a" opacity=".55"/><rect x="234.4" y="463.7" width="16.6" height="1.4" fill="#e8d8a4" opacity=".85"/><rect x="190.2" y="468.4" width="81.3" height="5.4" fill="#ab9872"/><rect x="190.2" y="472.2" width="81.3" height="1.3" fill="#7a684a" opacity=".55"/><rect x="189.4" y="473.6" width="81.3" height="5.4" fill="#b4a27c"/><rect x="189.4" y="477.4" width="81.3" height="1.3" fill="#7a684a" opacity=".55"/><rect x="234.2" y="474.1" width="17.4" height="1.4" fill="#e8d8a4" opacity=".85"/><rect x="189.1" y="478.8" width="81.7" height="5.4" fill="#b4a27c"/><rect x="189.1" y="482.6" width="81.7" height="1.3" fill="#7a684a" opacity=".55"/><rect x="214.3" y="479.3" width="22.8" height="1.4" fill="#e8d8a4" opacity=".85"/><rect x="189.0" y="484.0" width="82.8" height="5.4" fill="#b4a27c"/><rect x="189.0" y="487.8" width="82.8" height="1.3" fill="#7a684a" opacity=".55"/><rect x="211.2" y="484.5" width="15.2" height="1.4" fill="#e8d8a4" opacity=".85"/><rect x="190.1" y="489.2" width="81.3" height="5.4" fill="#ab9872"/><rect x="190.1" y="493.0" width="81.3" height="1.3" fill="#7a684a" opacity=".55"/><rect x="189.1" y="494.4" width="82.2" height="5.4" fill="#c2b18c"/><rect x="189.1" y="498.2" width="82.2" height="1.3" fill="#7a684a" opacity=".55"/><rect x="189.6" y="499.6" width="81.7" height="5.4" fill="#ab9872"/><rect x="189.6" y="503.4" width="81.7" height="1.3" fill="#7a684a" opacity=".55"/><rect x="189.9" y="504.8" width="82.1" height="5.4" fill="#bcab86"/><rect x="189.9" y="508.6" width="82.1" height="1.3" fill="#7a684a" opacity=".55"/><rect x="216.6" y="505.3" width="20.9" height="1.4" fill="#e8d8a4" opacity=".85"/><rect x="190.2" y="510.0" width="81.3" height="5.4" fill="#a08c66"/><rect x="190.2" y="513.8" width="81.3" height="1.3" fill="#7a684a" opacity=".55"/><rect x="190.5" y="515.2" width="82.0" height="5.4" fill="#bcab86"/><rect x="190.5" y="519.0" width="82.0" height="1.3" fill="#7a684a" opacity=".55"/><rect x="225.8" y="515.7" width="22.0" height="1.4" fill="#e8d8a4" opacity=".85"/><rect x="189.2" y="520.4" width="81.3" height="5.4" fill="#ab9872"/><rect x="189.2" y="524.2" width="81.3" height="1.3" fill="#7a684a" opacity=".55"/><rect x="190.2" y="525.6" width="81.7" height="5.4" fill="#ab9872"/><rect x="190.2" y="529.4" width="81.7" height="1.3" fill="#7a684a" opacity=".55"/><rect x="208.8" y="526.1" width="24.2" height="1.4" fill="#e8d8a4" opacity=".85"/><rect x="190.5" y="530.8" width="81.2" height="5.4" fill="#b4a27c"/><rect x="190.5" y="534.6" width="81.2" height="1.3" fill="#7a684a" opacity=".55"/><rect x="207.8" y="531.3" width="10.6" height="1.4" fill="#e8d8a4" opacity=".85"/><rect x="190" y="432" width="82" height="100" fill="url(#shade)"/>
<rect x="463.5" y="441.0" width="87.6" height="5.8" fill="#d6cfba"/><rect x="463.5" y="445.2" width="87.6" height="1.3" fill="#a39678" opacity=".55"/><rect x="499.2" y="441.5" width="10.7" height="1.4" fill="#ece6d2" opacity=".85"/><rect x="463.3" y="446.6" width="87.8" height="5.8" fill="#cfc7b0"/><rect x="463.3" y="450.8" width="87.8" height="1.3" fill="#a39678" opacity=".55"/><rect x="506.6" y="447.1" width="16.5" height="1.4" fill="#ece6d2" opacity=".85"/><rect x="463.3" y="452.2" width="89.0" height="5.8" fill="#d6cfba"/><rect x="463.3" y="456.4" width="89.0" height="1.3" fill="#a39678" opacity=".55"/><rect x="481.5" y="452.7" width="19.4" height="1.4" fill="#ece6d2" opacity=".85"/><rect x="463.8" y="457.8" width="88.5" height="5.8" fill="#bfb597"/><rect x="463.8" y="462.0" width="88.5" height="1.3" fill="#a39678" opacity=".55"/><rect x="464.2" y="463.4" width="88.3" height="5.8" fill="#c8bfa6"/><rect x="464.2" y="467.6" width="88.3" height="1.3" fill="#a39678" opacity=".55"/><rect x="464.4" y="469.0" width="88.8" height="5.8" fill="#d2cab3"/><rect x="464.4" y="473.2" width="88.8" height="1.3" fill="#a39678" opacity=".55"/><rect x="464.4" y="474.6" width="88.3" height="5.8" fill="#bfb597"/><rect x="464.4" y="478.8" width="88.3" height="1.3" fill="#a39678" opacity=".55"/><rect x="486.8" y="475.1" width="21.1" height="1.4" fill="#ece6d2" opacity=".85"/><rect x="464.9" y="480.2" width="87.5" height="5.8" fill="#bfb597"/><rect x="464.9" y="484.4" width="87.5" height="1.3" fill="#a39678" opacity=".55"/><rect x="464.3" y="485.8" width="87.5" height="5.8" fill="#bfb597"/><rect x="464.3" y="490.0" width="87.5" height="1.3" fill="#a39678" opacity=".55"/><rect x="478.2" y="486.3" width="23.9" height="1.4" fill="#ece6d2" opacity=".85"/><rect x="464.0" y="491.4" width="88.3" height="5.8" fill="#c8bfa6"/><rect x="464.0" y="495.6" width="88.3" height="1.3" fill="#a39678" opacity=".55"/><rect x="463.6" y="497.0" width="87.0" height="5.8" fill="#bfb597"/><rect x="463.6" y="501.2" width="87.0" height="1.3" fill="#a39678" opacity=".55"/><rect x="463.1" y="502.6" width="87.5" height="5.8" fill="#c8bfa6"/><rect x="463.1" y="506.8" width="87.5" height="1.3" fill="#a39678" opacity=".55"/><rect x="503.8" y="503.1" width="25.4" height="1.4" fill="#ece6d2" opacity=".85"/><rect x="464.0" y="508.2" width="87.2" height="5.8" fill="#d2cab3"/><rect x="464.0" y="512.4" width="87.2" height="1.3" fill="#a39678" opacity=".55"/><rect x="484.5" y="508.7" width="17.2" height="1.4" fill="#ece6d2" opacity=".85"/><rect x="462.8" y="513.8" width="88.6" height="5.8" fill="#d6cfba"/><rect x="462.8" y="518.0" width="88.6" height="1.3" fill="#a39678" opacity=".55"/><rect x="490.5" y="514.3" width="25.5" height="1.4" fill="#ece6d2" opacity=".85"/><rect x="463.3" y="519.4" width="88.4" height="5.8" fill="#bfb597"/><rect x="463.3" y="523.6" width="88.4" height="1.3" fill="#a39678" opacity=".55"/><rect x="509.3" y="519.9" width="21.6" height="1.4" fill="#ece6d2" opacity=".85"/><rect x="464.3" y="525.0" width="88.3" height="5.8" fill="#d6cfba"/><rect x="464.3" y="529.2" width="88.3" height="1.3" fill="#a39678" opacity=".55"/><rect x="491.5" y="525.5" width="9.0" height="1.4" fill="#ece6d2" opacity=".85"/><rect x="463.8" y="530.6" width="87.8" height="5.8" fill="#d6cfba"/><rect x="463.8" y="534.8" width="87.8" height="1.3" fill="#a39678" opacity=".55"/><rect x="480.9" y="531.1" width="14.1" height="1.4" fill="#ece6d2" opacity=".85"/><rect x="463.8" y="536.2" width="88.9" height="5.8" fill="#c8bfa6"/><rect x="463.8" y="540.4" width="88.9" height="1.3" fill="#a39678" opacity=".55"/><rect x="464" y="441" width="88" height="99" fill="url(#shade)"/>
<rect x="227.1" y="447.0" width="69.9" height="5.4" fill="#ab9872"/><rect x="227.1" y="450.8" width="69.9" height="1.3" fill="#7a684a" opacity=".55"/><rect x="259.4" y="447.5" width="18.3" height="1.4" fill="#e8d8a4" opacity=".85"/><rect x="226.3" y="452.2" width="69.9" height="5.4" fill="#c2b18c"/><rect x="226.3" y="456.0" width="69.9" height="1.3" fill="#7a684a" opacity=".55"/><rect x="226.8" y="457.4" width="69.3" height="5.4" fill="#a08c66"/><rect x="226.8" y="461.2" width="69.3" height="1.3" fill="#7a684a" opacity=".55"/><rect x="245.5" y="457.9" width="14.7" height="1.4" fill="#e8d8a4" opacity=".85"/><rect x="225.1" y="462.6" width="70.7" height="5.4" fill="#bcab86"/><rect x="225.1" y="466.4" width="70.7" height="1.3" fill="#7a684a" opacity=".55"/><rect x="225.4" y="467.8" width="70.4" height="5.4" fill="#bcab86"/><rect x="225.4" y="471.6" width="70.4" height="1.3" fill="#7a684a" opacity=".55"/><rect x="226.4" y="473.0" width="70.0" height="5.4" fill="#bcab86"/><rect x="226.4" y="476.8" width="70.0" height="1.3" fill="#7a684a" opacity=".55"/><rect x="255.3" y="473.5" width="11.5" height="1.4" fill="#e8d8a4" opacity=".85"/><rect x="226.0" y="478.2" width="70.2" height="5.4" fill="#b4a27c"/><rect x="226.0" y="482.0" width="70.2" height="1.3" fill="#7a684a" opacity=".55"/><rect x="225.7" y="483.4" width="70.9" height="5.4" fill="#a08c66"/><rect x="225.7" y="487.2" width="70.9" height="1.3" fill="#7a684a" opacity=".55"/><rect x="259.4" y="483.9" width="19.7" height="1.4" fill="#e8d8a4" opacity=".85"/><rect x="226.7" y="488.6" width="69.3" height="5.4" fill="#bcab86"/><rect x="226.7" y="492.4" width="69.3" height="1.3" fill="#7a684a" opacity=".55"/><rect x="224.8" y="493.8" width="69.0" height="5.4" fill="#b4a27c"/><rect x="224.8" y="497.6" width="69.0" height="1.3" fill="#7a684a" opacity=".55"/><rect x="225.4" y="499.0" width="69.2" height="5.4" fill="#ab9872"/><rect x="225.4" y="502.8" width="69.2" height="1.3" fill="#7a684a" opacity=".55"/><rect x="225.2" y="504.2" width="69.9" height="5.4" fill="#ab9872"/><rect x="225.2" y="508.0" width="69.9" height="1.3" fill="#7a684a" opacity=".55"/><rect x="247.0" y="504.7" width="14.5" height="1.4" fill="#e8d8a4" opacity=".85"/><rect x="226.3" y="509.4" width="70.4" height="5.4" fill="#b4a27c"/><rect x="226.3" y="513.2" width="70.4" height="1.3" fill="#7a684a" opacity=".55"/><rect x="226.9" y="514.6" width="70.6" height="5.4" fill="#bcab86"/><rect x="226.9" y="518.4" width="70.6" height="1.3" fill="#7a684a" opacity=".55"/><rect x="256.8" y="515.1" width="14.4" height="1.4" fill="#e8d8a4" opacity=".85"/><rect x="226.6" y="519.8" width="69.9" height="5.4" fill="#b4a27c"/><rect x="226.6" y="523.6" width="69.9" height="1.3" fill="#7a684a" opacity=".55"/><rect x="244.5" y="520.3" width="10.3" height="1.4" fill="#e8d8a4" opacity=".85"/><rect x="225.1" y="525.0" width="70.0" height="5.4" fill="#b4a27c"/><rect x="225.1" y="528.8" width="70.0" height="1.3" fill="#7a684a" opacity=".55"/><rect x="261.0" y="525.5" width="16.8" height="1.4" fill="#e8d8a4" opacity=".85"/><rect x="225.4" y="530.2" width="69.3" height="5.4" fill="#c2b18c"/><rect x="225.4" y="534.0" width="69.3" height="1.3" fill="#7a684a" opacity=".55"/><rect x="226" y="447" width="70" height="85" fill="url(#shade)"/>
<rect x="245.8" y="460.0" width="60.7" height="5.4" fill="#a08c66"/><rect x="245.8" y="463.8" width="60.7" height="1.3" fill="#7a684a" opacity=".55"/><rect x="247.0" y="465.2" width="59.6" height="5.4" fill="#a08c66"/><rect x="247.0" y="469.0" width="59.6" height="1.3" fill="#7a684a" opacity=".55"/><rect x="266.0" y="465.7" width="17.5" height="1.4" fill="#e8d8a4" opacity=".85"/><rect x="246.0" y="470.4" width="60.3" height="5.4" fill="#b4a27c"/><rect x="246.0" y="474.2" width="60.3" height="1.3" fill="#7a684a" opacity=".55"/><rect x="256.1" y="470.9" width="14.8" height="1.4" fill="#e8d8a4" opacity=".85"/><rect x="248.2" y="475.6" width="60.6" height="5.4" fill="#b4a27c"/><rect x="248.2" y="479.4" width="60.6" height="1.3" fill="#7a684a" opacity=".55"/><rect x="268.8" y="476.1" width="16.8" height="1.4" fill="#e8d8a4" opacity=".85"/><rect x="245.9" y="480.8" width="60.4" height="5.4" fill="#ab9872"/><rect x="245.9" y="484.6" width="60.4" height="1.3" fill="#7a684a" opacity=".55"/><rect x="275.6" y="481.3" width="10.4" height="1.4" fill="#e8d8a4" opacity=".85"/><rect x="246.9" y="486.0" width="60.1" height="5.4" fill="#ab9872"/><rect x="246.9" y="489.8" width="60.1" height="1.3" fill="#7a684a" opacity=".55"/><rect x="264.1" y="486.5" width="9.0" height="1.4" fill="#e8d8a4" opacity=".85"/><rect x="245.9" y="491.2" width="59.6" height="5.4" fill="#bcab86"/><rect x="245.9" y="495.0" width="59.6" height="1.3" fill="#7a684a" opacity=".55"/><rect x="246.8" y="496.4" width="60.0" height="5.4" fill="#bcab86"/><rect x="246.8" y="500.2" width="60.0" height="1.3" fill="#7a684a" opacity=".55"/><rect x="246.6" y="501.6" width="59.4" height="5.4" fill="#a08c66"/><rect x="246.6" y="505.4" width="59.4" height="1.3" fill="#7a684a" opacity=".55"/><rect x="246.6" y="506.8" width="59.6" height="5.4" fill="#bcab86"/><rect x="246.6" y="510.6" width="59.6" height="1.3" fill="#7a684a" opacity=".55"/><rect x="278.9" y="507.3" width="7.1" height="1.4" fill="#e8d8a4" opacity=".85"/><rect x="248.2" y="512.0" width="59.8" height="5.4" fill="#c2b18c"/><rect x="248.2" y="515.8" width="59.8" height="1.3" fill="#7a684a" opacity=".55"/><rect x="247.1" y="517.2" width="59.1" height="5.4" fill="#bcab86"/><rect x="247.1" y="521.0" width="59.1" height="1.3" fill="#7a684a" opacity=".55"/><rect x="257.2" y="517.7" width="15.9" height="1.4" fill="#e8d8a4" opacity=".85"/><rect x="246.9" y="522.4" width="60.5" height="5.4" fill="#b4a27c"/><rect x="246.9" y="526.2" width="60.5" height="1.3" fill="#7a684a" opacity=".55"/><rect x="248.0" y="527.6" width="60.2" height="5.4" fill="#c2b18c"/><rect x="248.0" y="531.4" width="60.2" height="1.3" fill="#7a684a" opacity=".55"/><rect x="273.2" y="528.1" width="14.3" height="1.4" fill="#e8d8a4" opacity=".85"/><rect x="247.9" y="532.8" width="59.2" height="5.4" fill="#b4a27c"/><rect x="247.9" y="536.6" width="59.2" height="1.3" fill="#7a684a" opacity=".55"/><rect x="247" y="460" width="60" height="75" fill="url(#shade)"/>
<rect x="399.9" y="462.0" width="80.5" height="5.8" fill="#cfc7b0"/><rect x="399.9" y="466.2" width="80.5" height="1.3" fill="#a39678" opacity=".55"/><rect x="400.9" y="467.6" width="79.8" height="5.8" fill="#cfc7b0"/><rect x="400.9" y="471.8" width="79.8" height="1.3" fill="#a39678" opacity=".55"/><rect x="400.4" y="473.2" width="79.7" height="5.8" fill="#c8bfa6"/><rect x="400.4" y="477.4" width="79.7" height="1.3" fill="#a39678" opacity=".55"/><rect x="400.1" y="478.8" width="79.5" height="5.8" fill="#d6cfba"/><rect x="400.1" y="483.0" width="79.5" height="1.3" fill="#a39678" opacity=".55"/><rect x="413.2" y="479.3" width="8.3" height="1.4" fill="#ece6d2" opacity=".85"/><rect x="400.2" y="484.4" width="80.2" height="5.8" fill="#cfc7b0"/><rect x="400.2" y="488.6" width="80.2" height="1.3" fill="#a39678" opacity=".55"/><rect x="428.9" y="484.9" width="21.2" height="1.4" fill="#ece6d2" opacity=".85"/><rect x="400.7" y="490.0" width="79.8" height="5.8" fill="#bfb597"/><rect x="400.7" y="494.2" width="79.8" height="1.3" fill="#a39678" opacity=".55"/><rect x="413.1" y="490.5" width="14.2" height="1.4" fill="#ece6d2" opacity=".85"/><rect x="400.2" y="495.6" width="80.9" height="5.8" fill="#c8bfa6"/><rect x="400.2" y="499.8" width="80.9" height="1.3" fill="#a39678" opacity=".55"/><rect x="425.4" y="496.1" width="9.6" height="1.4" fill="#ece6d2" opacity=".85"/><rect x="400.3" y="501.2" width="79.4" height="5.8" fill="#c8bfa6"/><rect x="400.3" y="505.4" width="79.4" height="1.3" fill="#a39678" opacity=".55"/><rect x="399.8" y="506.8" width="79.0" height="5.8" fill="#cfc7b0"/><rect x="399.8" y="511.0" width="79.0" height="1.3" fill="#a39678" opacity=".55"/><rect x="400.9" y="512.4" width="79.4" height="5.8" fill="#cfc7b0"/><rect x="400.9" y="516.6" width="79.4" height="1.3" fill="#a39678" opacity=".55"/><rect x="413.4" y="512.9" width="19.5" height="1.4" fill="#ece6d2" opacity=".85"/><rect x="399.4" y="518.0" width="80.5" height="5.8" fill="#c8bfa6"/><rect x="399.4" y="522.2" width="80.5" height="1.3" fill="#a39678" opacity=".55"/><rect x="399.7" y="523.6" width="80.5" height="5.8" fill="#c8bfa6"/><rect x="399.7" y="527.8" width="80.5" height="1.3" fill="#a39678" opacity=".55"/><rect x="399.0" y="529.2" width="80.3" height="5.8" fill="#bfb597"/><rect x="399.0" y="533.4" width="80.3" height="1.3" fill="#a39678" opacity=".55"/><rect x="440.8" y="529.7" width="12.1" height="1.4" fill="#ece6d2" opacity=".85"/><rect x="401.1" y="534.8" width="80.4" height="5.8" fill="#cfc7b0"/><rect x="401.1" y="539.0" width="80.4" height="1.3" fill="#a39678" opacity=".55"/><rect x="441.4" y="535.3" width="19.0" height="1.4" fill="#ece6d2" opacity=".85"/><rect x="400.3" y="540.4" width="79.8" height="5.8" fill="#d6cfba"/><rect x="400.3" y="544.6" width="79.8" height="1.3" fill="#a39678" opacity=".55"/><rect x="400" y="462" width="80" height="83" fill="url(#shade)"/>
<rect x="317.2" y="470.0" width="112.7" height="5.8" fill="#bfb597"/><rect x="317.2" y="474.2" width="112.7" height="1.3" fill="#a39678" opacity=".55"/><rect x="317.6" y="475.6" width="112.9" height="5.8" fill="#bfb597"/><rect x="317.6" y="479.8" width="112.9" height="1.3" fill="#a39678" opacity=".55"/><rect x="341.8" y="476.1" width="32.8" height="1.4" fill="#ece6d2" opacity=".85"/><rect x="317.1" y="481.2" width="112.9" height="5.8" fill="#c8bfa6"/><rect x="317.1" y="485.4" width="112.9" height="1.3" fill="#a39678" opacity=".55"/><rect x="317.8" y="486.8" width="111.8" height="5.8" fill="#bfb597"/><rect x="317.8" y="491.0" width="111.8" height="1.3" fill="#a39678" opacity=".55"/><rect x="318.7" y="492.4" width="112.1" height="5.8" fill="#d6cfba"/><rect x="318.7" y="496.6" width="112.1" height="1.3" fill="#a39678" opacity=".55"/><rect x="363.3" y="492.9" width="25.8" height="1.4" fill="#ece6d2" opacity=".85"/><rect x="318.7" y="498.0" width="112.2" height="5.8" fill="#d2cab3"/><rect x="318.7" y="502.2" width="112.2" height="1.3" fill="#a39678" opacity=".55"/><rect x="316.8" y="503.6" width="111.3" height="5.8" fill="#d6cfba"/><rect x="316.8" y="507.8" width="111.3" height="1.3" fill="#a39678" opacity=".55"/><rect x="377.4" y="504.1" width="16.7" height="1.4" fill="#ece6d2" opacity=".85"/><rect x="317.7" y="509.2" width="111.8" height="5.8" fill="#c8bfa6"/><rect x="317.7" y="513.4" width="111.8" height="1.3" fill="#a39678" opacity=".55"/><rect x="317.5" y="514.8" width="111.0" height="5.8" fill="#d6cfba"/><rect x="317.5" y="519.0" width="111.0" height="1.3" fill="#a39678" opacity=".55"/><rect x="341.3" y="515.3" width="31.8" height="1.4" fill="#ece6d2" opacity=".85"/><rect x="318.6" y="520.4" width="112.6" height="5.8" fill="#d6cfba"/><rect x="318.6" y="524.6" width="112.6" height="1.3" fill="#a39678" opacity=".55"/><rect x="318.7" y="526.0" width="112.7" height="5.8" fill="#d2cab3"/><rect x="318.7" y="530.2" width="112.7" height="1.3" fill="#a39678" opacity=".55"/><rect x="379.2" y="526.5" width="29.1" height="1.4" fill="#ece6d2" opacity=".85"/><rect x="318.1" y="531.6" width="112.6" height="5.8" fill="#bfb597"/><rect x="318.1" y="535.8" width="112.6" height="1.3" fill="#a39678" opacity=".55"/><rect x="338.7" y="532.1" width="23.6" height="1.4" fill="#ece6d2" opacity=".85"/><rect x="318.7" y="537.2" width="111.4" height="5.8" fill="#c8bfa6"/><rect x="318.7" y="541.4" width="111.4" height="1.3" fill="#a39678" opacity=".55"/><rect x="338.1" y="537.7" width="20.1" height="1.4" fill="#ece6d2" opacity=".85"/><rect x="318.5" y="542.8" width="112.9" height="5.8" fill="#d2cab3"/><rect x="318.5" y="547.0" width="112.9" height="1.3" fill="#a39678" opacity=".55"/><rect x="318" y="470" width="112" height="75" fill="url(#shade)"/>
</g>
<path d="M371.5 396L376.5 396.5L362 468L355.5 467.5Z" fill="#d9c39c"/>
<path d="M373 396.5L375 396.6L360.5 467.5L358.7 467.4Z" fill="#ead9b8"/>
<g transform="matrix(152.6,22.7,-11.1,91.5,364.5,300.8)">
<rect width="1" height="1" fill="#f5f4f4"/>
<g fill="#e0adb5"><rect x="0" y="0.00000" width="1" height="0.07692"/><rect x="0" y="0.15385" width="1" height="0.07692"/><rect x="0" y="0.30769" width="1" height="0.07692"/><rect x="0" y="0.46154" width="1" height="0.07692"/><rect x="0" y="0.61538" width="1" height="0.07692"/><rect x="0" y="0.76923" width="1" height="0.07692"/><rect x="0" y="0.92308" width="1" height="0.07692"/></g>
<rect x="-.003" y="-.005" width=".393" height="0.54346" fill="#bdbed3"/>
</g>
<g fill="#f8f8fa"><polygon points="369.18,304.29 369.53,305.79 371.03,306.10 369.71,306.89 369.88,308.41 368.72,307.40 367.32,308.04 367.93,306.62 366.89,305.49 368.42,305.62"/><polygon points="379.10,305.76 379.45,307.26 380.95,307.57 379.63,308.36 379.80,309.89 378.64,308.88 377.24,309.51 377.84,308.10 376.81,306.96 378.34,307.10"/><polygon points="389.02,307.24 389.36,308.74 390.87,309.05 389.55,309.84 389.72,311.37 388.56,310.36 387.16,310.99 387.76,309.57 386.73,308.44 388.26,308.57"/><polygon points="398.94,308.71 399.28,310.21 400.79,310.52 399.47,311.31 399.64,312.84 398.48,311.83 397.08,312.46 397.68,311.05 396.65,309.91 398.18,310.05"/><polygon points="408.86,310.19 409.20,311.69 410.71,312.00 409.39,312.79 409.56,314.32 408.40,313.31 407.00,313.94 407.60,312.53 406.57,311.39 408.10,311.52"/><polygon points="418.78,311.67 419.12,313.16 420.63,313.48 419.31,314.26 419.48,315.79 418.32,314.78 416.92,315.41 417.52,314.00 416.49,312.86 418.02,313.00"/><polygon points="373.54,309.95 373.89,311.45 375.39,311.76 374.07,312.55 374.24,314.08 373.08,313.07 371.68,313.70 372.29,312.29 371.25,311.15 372.78,311.29"/><polygon points="383.46,311.43 383.81,312.93 385.31,313.24 383.99,314.03 384.16,315.55 383.00,314.54 381.60,315.18 382.21,313.76 381.17,312.63 382.70,312.76"/><polygon points="393.38,312.90 393.73,314.40 395.23,314.71 393.91,315.50 394.08,317.03 392.92,316.02 391.52,316.65 392.12,315.24 391.09,314.10 392.62,314.24"/><polygon points="403.30,314.38 403.65,315.88 405.15,316.19 403.83,316.98 404.00,318.51 402.84,317.50 401.44,318.13 402.04,316.71 401.01,315.58 402.54,315.71"/><polygon points="413.22,315.85 413.56,317.35 415.07,317.66 413.75,318.45 413.92,319.98 412.76,318.97 411.36,319.60 411.96,318.19 410.93,317.05 412.46,317.19"/><polygon points="367.99,314.14 368.33,315.64 369.84,315.95 368.52,316.74 368.69,318.27 367.53,317.26 366.13,317.89 366.73,316.48 365.70,315.34 367.23,315.48"/><polygon points="377.91,315.62 378.25,317.12 379.75,317.43 378.44,318.22 378.60,319.74 377.45,318.73 376.05,319.37 376.65,317.95 375.61,316.82 377.15,316.95"/><polygon points="387.83,317.09 388.17,318.59 389.67,318.90 388.36,319.69 388.52,321.22 387.37,320.21 385.97,320.84 386.57,319.43 385.53,318.29 387.06,318.43"/><polygon points="397.74,318.57 398.09,320.07 399.59,320.38 398.27,321.17 398.44,322.69 397.28,321.68 395.88,322.32 396.49,320.90 395.45,319.77 396.98,319.90"/><polygon points="407.66,320.04 408.01,321.54 409.51,321.85 408.19,322.64 408.36,324.17 407.20,323.16 405.80,323.79 406.41,322.38 405.37,321.24 406.90,321.38"/><polygon points="417.58,321.52 417.93,323.02 419.43,323.33 418.11,324.12 418.28,325.65 417.12,324.64 415.72,325.27 416.32,323.85 415.29,322.72 416.82,322.85"/><polygon points="372.35,319.81 372.69,321.30 374.20,321.62 372.88,322.41 373.05,323.93 371.89,322.92 370.49,323.56 371.09,322.14 370.06,321.00 371.59,321.14"/><polygon points="382.27,321.28 382.61,322.78 384.12,323.09 382.80,323.88 382.97,325.41 381.81,324.40 380.41,325.03 381.01,323.62 379.98,322.48 381.51,322.62"/><polygon points="392.19,322.76 392.53,324.26 394.04,324.57 392.72,325.36 392.89,326.88 391.73,325.87 390.33,326.51 390.93,325.09 389.90,323.96 391.43,324.09"/><polygon points="402.11,324.23 402.45,325.73 403.95,326.04 402.64,326.83 402.80,328.36 401.65,327.35 400.25,327.98 400.85,326.57 399.81,325.43 401.35,325.57"/><polygon points="412.03,325.71 412.37,327.21 413.87,327.52 412.56,328.31 412.72,329.83 411.57,328.83 410.16,329.46 410.77,328.04 409.73,326.91 411.26,327.04"/><polygon points="366.79,324.00 367.14,325.49 368.64,325.81 367.32,326.59 367.49,328.12 366.33,327.11 364.93,327.74 365.53,326.33 364.50,325.19 366.03,325.33"/><polygon points="376.71,325.47 377.05,326.97 378.56,327.28 377.24,328.07 377.41,329.60 376.25,328.59 374.85,329.22 375.45,327.81 374.42,326.67 375.95,326.81"/><polygon points="386.63,326.95 386.97,328.44 388.48,328.76 387.16,329.55 387.33,331.07 386.17,330.06 384.77,330.70 385.37,329.28 384.34,328.15 385.87,328.28"/><polygon points="396.55,328.42 396.89,329.92 398.40,330.23 397.08,331.02 397.25,332.55 396.09,331.54 394.69,332.17 395.29,330.76 394.26,329.62 395.79,329.76"/><polygon points="406.47,329.90 406.81,331.40 408.32,331.71 407.00,332.50 407.17,334.02 406.01,333.01 404.61,333.65 405.21,332.23 404.18,331.10 405.71,331.23"/><polygon points="416.39,331.37 416.73,332.87 418.24,333.18 416.92,333.97 417.09,335.50 415.93,334.49 414.53,335.12 415.13,333.71 414.10,332.57 415.63,332.71"/><polygon points="371.15,329.66 371.50,331.16 373.00,331.47 371.68,332.26 371.85,333.79 370.69,332.78 369.29,333.41 369.90,332.00 368.86,330.86 370.39,331.00"/><polygon points="381.07,331.14 381.42,332.63 382.92,332.95 381.60,333.73 381.77,335.26 380.61,334.25 379.21,334.88 379.82,333.47 378.78,332.33 380.31,332.47"/><polygon points="390.99,332.61 391.34,334.11 392.84,334.42 391.52,335.21 391.69,336.74 390.53,335.73 389.13,336.36 389.73,334.95 388.70,333.81 390.23,333.95"/><polygon points="400.91,334.09 401.25,335.58 402.76,335.90 401.44,336.69 401.61,338.21 400.45,337.20 399.05,337.84 399.65,336.42 398.62,335.29 400.15,335.42"/><polygon points="410.83,335.56 411.17,337.06 412.68,337.37 411.36,338.16 411.53,339.69 410.37,338.68 408.97,339.31 409.57,337.90 408.54,336.76 410.07,336.90"/><polygon points="365.60,333.85 365.94,335.35 367.44,335.66 366.13,336.45 366.29,337.98 365.14,336.97 363.74,337.60 364.34,336.18 363.31,335.05 364.84,335.18"/><polygon points="375.52,335.33 375.86,336.82 377.36,337.13 376.05,337.92 376.21,339.45 375.06,338.44 373.66,339.07 374.26,337.66 373.22,336.52 374.75,336.66"/><polygon points="385.44,336.80 385.78,338.30 387.28,338.61 385.96,339.40 386.13,340.93 384.97,339.92 383.57,340.55 384.18,339.14 383.14,338.00 384.67,338.14"/><polygon points="395.35,338.28 395.70,339.77 397.20,340.09 395.88,340.88 396.05,342.40 394.89,341.39 393.49,342.02 394.10,340.61 393.06,339.47 394.59,339.61"/><polygon points="405.27,339.75 405.62,341.25 407.12,341.56 405.80,342.35 405.97,343.88 404.81,342.87 403.41,343.50 404.01,342.09 402.98,340.95 404.51,341.09"/><polygon points="415.19,341.23 415.54,342.72 417.04,343.04 415.72,343.83 415.89,345.35 414.73,344.34 413.33,344.98 413.93,343.56 412.90,342.43 414.43,342.56"/><polygon points="369.96,339.51 370.30,341.01 371.81,341.32 370.49,342.11 370.66,343.64 369.50,342.63 368.10,343.26 368.70,341.85 367.67,340.71 369.20,340.85"/><polygon points="379.88,340.99 380.22,342.49 381.73,342.80 380.41,343.59 380.58,345.12 379.42,344.11 378.02,344.74 378.62,343.32 377.59,342.19 379.12,342.32"/><polygon points="389.80,342.47 390.14,343.96 391.64,344.27 390.33,345.06 390.49,346.59 389.34,345.58 387.94,346.21 388.54,344.80 387.50,343.66 389.04,343.80"/><polygon points="399.72,343.94 400.06,345.44 401.56,345.75 400.25,346.54 400.41,348.07 399.26,347.06 397.86,347.69 398.46,346.28 397.42,345.14 398.95,345.28"/><polygon points="409.63,345.42 409.98,346.91 411.48,347.23 410.16,348.02 410.33,349.54 409.17,348.53 407.77,349.16 408.38,347.75 407.34,346.61 408.87,346.75"/><polygon points="364.40,343.70 364.74,345.20 366.25,345.51 364.93,346.30 365.10,347.83 363.94,346.82 362.54,347.45 363.14,346.04 362.11,344.90 363.64,345.04"/><polygon points="374.32,345.18 374.66,346.68 376.17,346.99 374.85,347.78 375.02,349.31 373.86,348.30 372.46,348.93 373.06,347.51 372.03,346.38 373.56,346.51"/><polygon points="384.24,346.65 384.58,348.15 386.09,348.46 384.77,349.25 384.94,350.78 383.78,349.77 382.38,350.40 382.98,348.99 381.95,347.85 383.48,347.99"/><polygon points="394.16,348.13 394.50,349.63 396.01,349.94 394.69,350.73 394.86,352.26 393.70,351.25 392.30,351.88 392.90,350.46 391.87,349.33 393.40,349.46"/><polygon points="404.08,349.61 404.42,351.10 405.93,351.42 404.61,352.20 404.78,353.73 403.62,352.72 402.22,353.35 402.82,351.94 401.79,350.80 403.32,350.94"/><polygon points="414.00,351.08 414.34,352.58 415.84,352.89 414.53,353.68 414.69,355.21 413.54,354.20 412.14,354.83 412.74,353.42 411.70,352.28 413.24,352.42"/></g>
</svg>
<div id="wm" class="abs"><span id="wm-c">&copy;</span><span id="wm-1">www.al-ain.com</span><span id="wm-2">2019 - 2020</span></div>
<!-- gridlines -->
<svg class="abs" style="left:0;top:0" width="768" height="600">
<g stroke-width="2">
<line x1="57.5" x2="711" y1="282" y2="282" stroke="#000" stroke-opacity=".4"/>
<line x1="57.5" x2="711" y1="315.2" y2="315.2" stroke="#000" stroke-opacity=".18"/>
<line x1="57.5" x2="711" y1="348.6" y2="348.6" stroke="#000" stroke-opacity=".4"/>
<line x1="57.5" x2="711" y1="382" y2="382" stroke="#000" stroke-opacity=".18"/>
<line x1="57.5" x2="711" y1="415.4" y2="415.4" stroke="#000" stroke-opacity=".4"/>
<line x1="57.5" x2="711" y1="448.8" y2="448.8" stroke="#000" stroke-opacity=".18"/>
<line x1="57.5" x2="711" y1="482" y2="482" stroke="#000" stroke-opacity=".4"/>
<line x1="57.5" x2="711" y1="515.4" y2="515.4" stroke="#000" stroke-opacity=".18"/>
<line x1="57.5" x2="711" y1="548.6" y2="548.6" stroke="#000" stroke-opacity=".4"/>
</g>
</svg>

<!-- bars -->
<div class="bar" style="left:71.5px;top:512px;height:69.0px"></div>
<div class="bar" style="left:134.4px;top:512px;height:69.0px"></div>
<div class="bar" style="left:197.4px;top:507.6px;height:73.4px"></div>
<div class="bar" style="left:260.4px;top:502.7px;height:78.3px"></div>
<div class="bar" style="left:323.3px;top:498px;height:83.0px"></div>
<div class="bar" style="left:386.3px;top:485.3px;height:95.7px"></div>
<div class="bar" style="left:449.2px;top:483.6px;height:97.4px"></div>
<div class="bar" style="left:512.2px;top:473px;height:108.0px"></div>
<div class="bar" style="left:575.1px;top:305.8px;height:275.2px"></div>
<div class="bar" style="left:638.1px;top:260.8px;height:320.2px"></div>

<svg class="abs" style="left:0;top:0" width="768" height="600"><line x1="57.5" x2="711" y1="581.7" y2="581.7" stroke="#161616" stroke-width="1.7" stroke-opacity=".9"/></svg>
<div class="num" style="left:71.5px;top:518px">192</div>
<div class="num" style="left:134.4px;top:518px">200</div>
<div class="num" style="left:197.4px;top:514px">208</div>
<div class="num" style="left:260.4px;top:509px">217</div>
<div class="num" style="left:323.3px;top:504px">229</div>
<div class="num" style="left:386.3px;top:496px">270</div>
<div class="num" style="left:449.2px;top:490px">272</div>
<div class="num" style="left:512.2px;top:479px">305</div>
<div class="tn" style="left:575.1px;top:313px">1.06</div>
<div class="tt" style="left:575.1px;top:335px">تريليون</div>
<div class="tn" style="left:638.1px;top:273px">1.12</div>
<div class="tt" style="left:638.1px;top:293.5px">تريليون</div>

<div class="lab" style="left:54px">بلجيكا</div>
<div class="lab" style="left:119px">هونج كونج</div>
<div class="lab" style="left:180px">أيسلندا</div>
<div class="lab" style="left:243px">لوكسمبورج</div>
<div class="lab" style="left:306px">سويسرا</div>
<div class="lab" style="left:369px">أيرلندا</div>
<div class="lab" style="left:432px">بريطانيا</div>
<div class="lab" style="left:495px">البرازيل</div>
<div class="lab" style="left:558px">اليابان</div>
<div class="lab" style="left:621px">الصين</div>

<div id="footer" class="abs"></div>
<div class="ico" style="left:33px"><svg width="20" height="19" viewBox="0 0 20 19"><path fill="#fff" d="M16.2 5.2c-.5.2-1 .4-1.6.4.6-.3 1-.9 1.2-1.5-.5.3-1.1.5-1.7.7a2.7 2.7 0 0 0-4.7 2.5c-2.3-.1-4.3-1.2-5.6-2.9-.8 1.3-.3 2.9.8 3.7-.4 0-.9-.1-1.2-.3 0 1.3.9 2.5 2.2 2.7-.4.1-.8.1-1.2 0 .4 1.1 1.4 1.9 2.6 1.9-1.2.9-2.6 1.3-4 1.1 4.1 2.6 9.9.8 10.9-4.9.1-.4.1-.9.1-1.3.6-.4 1-.9 1.2-1.1z"/></svg></div>
<div class="ft" style="left:56px">alain_4u</div>
<div class="ico" style="left:94px"><svg width="20" height="19" viewBox="0 0 20 19"><rect x="4.5" y="4" width="11" height="11" rx="2.5" fill="none" stroke="#fff" stroke-width="1.8"/><circle cx="10" cy="9.5" r="2.4" fill="none" stroke="#fff" stroke-width="1.7"/><rect x="4.5" y="7.6" width="3" height="1.2" fill="#8c8c8c"/><rect x="12.5" y="7.6" width="3" height="1.2" fill="#8c8c8c"/><circle cx="13.3" cy="6" r=".9" fill="#fff"/></svg></div>
<div class="ft" style="left:117px">alain.4u</div>
<div class="ico" style="left:153.5px"><svg width="20" height="19" viewBox="0 0 20 19"><path fill="#fff" d="M8.3 17V10.6H6.6V8.3h1.7V6.4c0-2 1.1-3.1 3-3.1.8 0 1.6.1 1.6.1v2h-1c-.9 0-1.1.5-1.1 1.1v1.8h2l-.3 2.3h-1.7V17z"/></svg></div>
<div class="ft" style="left:176.5px">alain.social</div>
<div class="ico" style="left:221px"><svg width="20" height="19" viewBox="0 0 20 19"><rect x="3.5" y="4.5" width="13" height="10" rx="2.6" fill="#fff"/><path d="M8.6 7.3v4.4l3.7-2.2z" fill="#8c8c8c"/></svg></div>
<div class="ft ar" style="left:244.5px;transform:scaleX(.855)">بوابة العين الإخبارية</div>
<div class="ft" style="left:651px;top:716px;font-size:10.6px;font-weight:600;color:#858585">al-ain.com</div>
<svg id="logo" class="abs" width="35" height="32.5" viewBox="0 0 35 32.5">
<defs><clipPath id="lc"><path d="M0 5Q0 0 5 0H35V27.5Q35 32.5 30 32.5H0Z"/></clipPath>
<linearGradient id="og" x1="0" y1="0" x2="1" y2=".6"><stop offset="0" stop-color="#f28c3e"/><stop offset=".55" stop-color="#ee7a2e"/><stop offset="1" stop-color="#ec6c22"/></linearGradient>
<linearGradient id="tg" x1="0" y1="0" x2="0" y2="1"><stop offset="0" stop-color="#49b2ae"/><stop offset="1" stop-color="#5fbdb9"/></linearGradient></defs>
<g clip-path="url(#lc)">
<rect width="35" height="32.5" fill="url(#og)"/>
<path d="M-1 20.8Q4 23.5 8.2 22.7T21.9 20.5T31.2 17.8Q33 16.5 32.5 12Q32 8 30.6 5.5Q34 8.5 35.5 13V34H-1Z" fill="url(#tg)"/>
<path d="M-1 20.3Q4 23 8.2 22.2T21.9 20T30.6 17.6" fill="none" stroke="#fff" stroke-width="1.3"/>
<path d="M30 3.4Q30.9 10 30.7 18" fill="none" stroke="#fff" stroke-width="1.6" stroke-linecap="round"/>
<path d="M30.8 6Q33.2 10 33.3 15.5" fill="none" stroke="#d8f0ee" stroke-width=".8"/>
<circle cx="6.8" cy="18" r="1.15" fill="#fff"/>
<path d="M15.5 19.6Q15.6 15.8 18.5 16.2Q20.5 16.6 20.7 18.6Q22.3 15.4 24.6 17.2Q25.8 15.4 27.8 16.5" fill="none" stroke="#fff" stroke-width="1.5"/>
<path d="M20.7 19Q21 21 20.3 22.5" fill="none" stroke="#fff" stroke-width="1.3"/>
<text x="17.6" y="30" text-anchor="middle" font-family="Noto Sans Arabic, DejaVu Sans, sans-serif" font-weight="700" font-size="6.8" fill="#f2fbfa" direction="rtl">الإخبارية</text>
</g></svg>
</body>
</html>
